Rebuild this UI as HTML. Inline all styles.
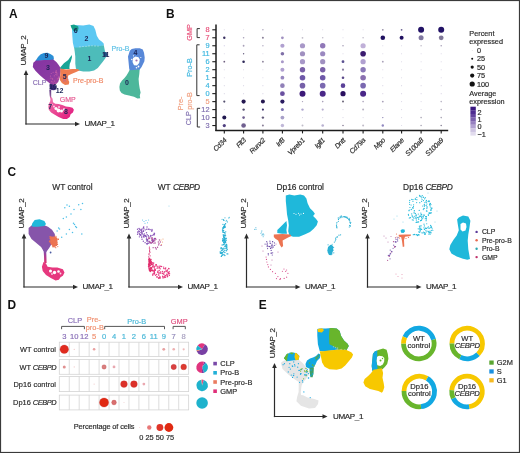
<!DOCTYPE html>
<html><head><meta charset="utf-8"><style>
html,body{margin:0;padding:0;background:#fff;width:520px;height:453px;overflow:hidden;}
svg{display:block;font-family:"Liberation Sans", sans-serif;will-change:transform;}
</style></head><body>
<svg width="520" height="453" viewBox="0 0 520 453">
<rect width="520" height="453" fill="#fff"/>
<rect x="0.5" y="0.5" width="519" height="452" fill="none" stroke="#3a3a3a" stroke-width="1.2"/>
<text x="8.9" y="17.8" font-size="11.9" fill="#111" text-anchor="start" font-weight="bold" >A</text>
<text x="165.9" y="17.9" font-size="11.9" fill="#111" text-anchor="start" font-weight="bold" >B</text>
<text x="7.4" y="176.1" font-size="11.9" fill="#111" text-anchor="start" font-weight="bold" >C</text>
<text x="7.6" y="308.7" font-size="11.9" fill="#111" text-anchor="start" font-weight="bold" >D</text>
<text x="258.7" y="308.8" font-size="11.9" fill="#111" text-anchor="start" font-weight="bold" >E</text>
<defs><linearGradient id="gPk" x1="0" y1="0" x2="1" y2="1"><stop offset="0" stop-color="#f07ab4"/><stop offset="0.45" stop-color="#ea4a94"/><stop offset="1" stop-color="#e0147c"/></linearGradient><linearGradient id="gC3" x1="0" y1="0" x2="1" y2="1"><stop offset="0" stop-color="#8434a2"/><stop offset="0.6" stop-color="#8a3aa2"/><stop offset="1" stop-color="#a4489e"/></linearGradient><linearGradient id="gSt" x1="0" y1="0" x2="0" y2="1"><stop offset="0" stop-color="#5a3a80"/><stop offset="0.7" stop-color="#8a5a9a"/><stop offset="1" stop-color="#e05a9a"/></linearGradient></defs>
<path d="M71.7 25.5 L75.9 24.9 L83.2 25.5 L89.3 24.6 L93.5 26.1 L95.3 29.7 L96.8 35.8 L99 39.4 L102 41.8 L103.8 43.7 L103.8 45.5 L100.2 46.3 L94.1 45.9 L89.3 46.5 L82 47.5 L77.1 48.1 L74.1 48.1 L72.9 43 L72.3 35.8 L72 29.7Z" fill="#5cc8f2" />
<path d="M70.5 25.2 L74 24.6 L78.3 26.5 L78.5 29 L77.1 31.5 L73.5 30.9 L71.5 28Z" fill="#14a08a" />
<path d="M74.1 47.6 L77.1 47.6 L82 47.1 L89.3 46.1 L94.1 45.6 L100.2 45.9 L103.8 45.3 L105 51.6 L106.3 56.4 L105 58.8 L102.6 61.9 L100.2 64.9 L97.8 67.9 L94.1 70.4 L89.3 71.6 L83.2 71.6 L78.3 70.4 L75.9 68.5 L75.3 63.7 L75.3 56.4 L74.7 51.6Z" fill="#4dbcba" />
<path d="M60.2 67.5 L63.9 63.2 L68.2 60 L70.3 56.9 L71.9 55 L71.9 57.4 L70.8 61.6 L69.8 63.8 L69.4 67.5 L69.6 68.9 L60.2 68.9Z" fill="#17a596" />
<path d="M103.2 52.5 L106 52 L107.5 54.5 L106.5 56.4 L104 56.4Z" fill="#1d4f80" />
<path d="M35.4 60.9 L38 57 L40.7 54.3 L43.9 53.1 L47.6 52.8 L50.8 54.3 L53.4 55.9 L53.9 58.6 L53.2 60.2 L49.2 60.6 L43.9 60.6 L38.6 61 L35.9 61.2Z" fill="#2a8fd6" />
<path d="M33.3 62.8 L35.9 60.5 L38.6 60.4 L43.9 60.1 L49.2 60.1 L53.4 59.4 L56.6 62.3 L58.7 64.9 L60.3 67.6 L60.8 70.8 L60.3 74.5 L59.7 77.6 L58.2 81.9 L55.5 84.5 L53.4 85.6 L50.8 84.6 L48.1 81.9 L43.9 78.7 L39.6 75 L35.4 70.8 L32.8 67Z" fill="url(#gC3)" />
<path d="M60.3 68.4 L66.1 69.5 L72.4 69 L77.7 69 L79.9 70.2 L76.7 71.8 L71.4 73.9 L68.2 75.5 L67.7 78.7 L69.3 81.9 L68.7 84.5 L65 85 L61.9 82.9 L59.7 79.7 L60.3 74.5Z" fill="#ee7c50" />
<path d="M49.7 84.2 L53 84.6 L55.5 85.2 L56.5 87 L56 89.5 L54 90.3 L51.5 90 L50 89 L49.5 87Z" fill="#3d2b78" />
<path d="M49.3 89.5 L51.2 89.5 L51.2 96.5 L51.6 98.5 L50.2 98.5 L49.6 95Z" fill="url(#gSt)" />
<path d="M50.7 96.7 L52.5 98.6 L53 102.3 L55.3 103.7 L58.6 104.1 L62.3 105 L66 106.4 L69.7 106.9 L72.5 107.8 L73.9 109.7 L72.9 112.5 L70.6 114.3 L69.7 117.1 L66.9 119 L63.2 119 L58.6 117.1 L54.8 114.8 L51.1 112.5 L48.8 109.7 L48.3 106.9 L48.8 104.1 L50.2 101.3Z" fill="url(#gPk)" />
<path d="M129.8 69.6 L139.7 69 L139.3 74 L138.6 79 L139 84 L139.7 88.5 L140.6 92.5 L139.8 95.5 L140.2 98.2 L137.5 98.4 L134 96.8 L129 95.5 L124.5 94.5 L121.5 93 L119.8 90.5 L119.4 87 L120 83.5 L122 80.5 L124.5 78 L126.5 75.5 L128.3 72.5Z" fill="#4db79b" />
<path d="M129.8 50.8 L131.7 48.9 L135.4 48.3 L139.7 48.3 L142.8 49.6 L144 52.7 L144.7 57.6 L144.4 61.3 L142.8 64.4 L141.6 66.9 L139.7 69.6 L129.8 70.2 L129.2 68.7 L128.6 62.5 L128 56.4 L129.2 52.7ZM133 58 L135.5 56.5 L138.5 57.3 L139.8 59.5 L139.2 63 L137 65.5 L134 65.3 L132.5 62Z" fill="#5888d8" fill-rule="evenodd"/>
<circle cx="50.97" cy="78.16" r="0.6" fill="#c05aa8" />
<circle cx="52.62" cy="79.06" r="0.6" fill="#c05aa8" />
<circle cx="55.82" cy="70.98" r="0.6" fill="#c05aa8" />
<circle cx="51.24" cy="73.51" r="0.6" fill="#c05aa8" />
<circle cx="58.46" cy="77.15" r="0.6" fill="#c05aa8" />
<circle cx="55.99" cy="72.26" r="0.6" fill="#c05aa8" />
<circle cx="55.94" cy="83.02" r="0.6" fill="#c05aa8" />
<circle cx="54.54" cy="81.12" r="0.6" fill="#c05aa8" />
<circle cx="56.39" cy="70.96" r="0.6" fill="#c05aa8" />
<circle cx="57.48" cy="78.87" r="0.6" fill="#c05aa8" />
<circle cx="58.82" cy="77.09" r="0.6" fill="#c05aa8" />
<circle cx="52.94" cy="82.01" r="0.6" fill="#c05aa8" />
<circle cx="53.56" cy="84.03" r="0.6" fill="#c05aa8" />
<circle cx="55.83" cy="74.52" r="0.6" fill="#c05aa8" />
<circle cx="54.34" cy="75.79" r="0.6" fill="#c05aa8" />
<circle cx="52.39" cy="78.78" r="0.6" fill="#c05aa8" />
<circle cx="55.3" cy="83.56" r="0.6" fill="#c05aa8" />
<circle cx="56.39" cy="72.45" r="0.6" fill="#c05aa8" />
<circle cx="56.92" cy="73.17" r="0.6" fill="#c05aa8" />
<circle cx="58.4" cy="78.6" r="0.6" fill="#c05aa8" />
<circle cx="53.13" cy="72.26" r="0.6" fill="#c05aa8" />
<circle cx="51.67" cy="81.53" r="0.6" fill="#c05aa8" />
<circle cx="56.98" cy="74.96" r="0.6" fill="#c05aa8" />
<circle cx="50.47" cy="76.12" r="0.6" fill="#c05aa8" />
<circle cx="55.63" cy="72.34" r="0.6" fill="#c05aa8" />
<circle cx="67.62" cy="77.97" r="0.55" fill="#c86a88" />
<circle cx="63.91" cy="79.46" r="0.55" fill="#c86a88" />
<circle cx="65.47" cy="80.25" r="0.55" fill="#c86a88" />
<circle cx="64.75" cy="80.51" r="0.55" fill="#c86a88" />
<circle cx="68" cy="79.32" r="0.55" fill="#c86a88" />
<circle cx="63.67" cy="81.56" r="0.55" fill="#c86a88" />
<circle cx="62.02" cy="77.16" r="0.55" fill="#c86a88" />
<circle cx="63.53" cy="80.09" r="0.55" fill="#c86a88" />
<circle cx="65.37" cy="74.63" r="0.55" fill="#c86a88" />
<circle cx="65.33" cy="78.9" r="0.55" fill="#c86a88" />
<circle cx="65.77" cy="77.7" r="0.55" fill="#c86a88" />
<circle cx="66.01" cy="81.75" r="0.55" fill="#c86a88" />
<circle cx="56" cy="108.5" r="1.6" fill="#ffffff" />
<circle cx="58.5" cy="110.5" r="1.9" fill="#ffffff" />
<circle cx="61.5" cy="111" r="1.5" fill="#ffffff" />
<circle cx="64" cy="109.5" r="1.2" fill="#fde4ef" />
<circle cx="54" cy="106.5" r="1" fill="#fbd0e4" />
<circle cx="59" cy="107" r="1" fill="#fbd0e4" />
<circle cx="52" cy="104.5" r="0.8" fill="#f8c0da" />
<circle cx="80" cy="46.8" r="0.55" fill="#c8ecf0" />
<circle cx="83" cy="46.5" r="0.55" fill="#c8ecf0" />
<circle cx="86" cy="46.2" r="0.55" fill="#c8ecf0" />
<circle cx="89" cy="45.9" r="0.55" fill="#c8ecf0" />
<circle cx="92" cy="45.8" r="0.55" fill="#c8ecf0" />
<circle cx="95" cy="45.9" r="0.55" fill="#c8ecf0" />
<circle cx="98" cy="46" r="0.55" fill="#c8ecf0" />
<circle cx="136.5" cy="60.5" r="1.1" fill="#a070b0" />
<circle cx="138.5" cy="66.5" r="0.9" fill="#ffffff" />
<circle cx="136.5" cy="67.8" r="0.8" fill="#ffffff" />
<circle cx="131.8" cy="59.5" r="0.7" fill="#ffffff" />
<circle cx="140.8" cy="57.5" r="0.6" fill="#ffffff" />
<circle cx="133.5" cy="55.8" r="0.6" fill="#ffffff" />
<line x1="26" y1="124.6" x2="26" y2="74" stroke="#2b2b2b" stroke-width="1.2"/>
<line x1="25.4" y1="124" x2="76" y2="124" stroke="#2b2b2b" stroke-width="1.2"/>
<path d="M26 70 L23.7 75 L28.3 75Z" fill="#2b2b2b" />
<path d="M80 124 L75 121.7 L75 126.3Z" fill="#2b2b2b" />
<text x="25.7" y="65.5" font-size="8.1" fill="#2b2b2b" stroke="#2b2b2b" stroke-width="0.18" text-anchor="start" letter-spacing="-0.4" transform="rotate(-90 25.7 65.5)" >UMAP_2</text>
<text x="84.6" y="126.2" font-size="8.1" fill="#2b2b2b" stroke="#2b2b2b" stroke-width="0.18" text-anchor="start" letter-spacing="-0.4" >UMAP_1</text>
<text x="86.5" y="41" font-size="7" fill="#1b2456" text-anchor="middle" font-weight="bold" >2</text>
<text x="75.7" y="32.5" font-size="7" fill="#1b2456" text-anchor="middle" font-weight="bold" >6</text>
<text x="89.5" y="61" font-size="7" fill="#1b2456" text-anchor="middle" font-weight="bold" >1</text>
<text x="105.7" y="57" font-size="7" fill="#1b2456" text-anchor="middle" font-weight="bold" >11</text>
<text x="46.5" y="58" font-size="7" fill="#1b2456" text-anchor="middle" font-weight="bold" >9</text>
<text x="48" y="70" font-size="7" fill="#1b2456" text-anchor="middle" font-weight="bold" >3</text>
<text x="64.6" y="79" font-size="7" fill="#1b2456" text-anchor="middle" font-weight="bold" >5</text>
<text x="53" y="89" font-size="7" fill="#1b2456" text-anchor="middle" font-weight="bold" >10</text>
<text x="59.6" y="92.5" font-size="7" fill="#1b2456" text-anchor="middle" font-weight="bold" >12</text>
<text x="50.2" y="108.5" font-size="7" fill="#1b2456" text-anchor="middle" font-weight="bold" >7</text>
<text x="66" y="114.2" font-size="7" fill="#1b2456" text-anchor="middle" font-weight="bold" >8</text>
<text x="126.9" y="85" font-size="7" fill="#1b2456" text-anchor="middle" font-weight="bold" >0</text>
<text x="135.5" y="55" font-size="7" fill="#1b2456" text-anchor="middle" font-weight="bold" >4</text>
<text x="111.5" y="51.2" font-size="7" fill="#5cc0e6" stroke="#5cc0e6" stroke-width="0.18" text-anchor="start" >Pro-B</text>
<text x="73" y="82.8" font-size="7" fill="#f08a68" stroke="#f08a68" stroke-width="0.18" text-anchor="start" >Pre-pro-B</text>
<text x="32.8" y="85.2" font-size="7" fill="#8a70b4" stroke="#8a70b4" stroke-width="0.18" text-anchor="start" >CLP</text>
<text x="59.8" y="102.4" font-size="7" fill="#e75a92" stroke="#e75a92" stroke-width="0.18" text-anchor="start" >GMP</text>
<text x="209.6" y="32.3" font-size="7.4" fill="#e8507a" stroke="#e8507a" stroke-width="0.18" text-anchor="end" >8</text>
<line x1="212.3" y1="29.8" x2="216" y2="29.8" stroke="#1c1c1c" stroke-width="1.1"/>
<text x="209.6" y="40.28" font-size="7.4" fill="#e8507a" stroke="#e8507a" stroke-width="0.18" text-anchor="end" >7</text>
<line x1="212.3" y1="37.78" x2="216" y2="37.78" stroke="#1c1c1c" stroke-width="1.1"/>
<text x="209.6" y="48.26" font-size="7.4" fill="#40b8e0" stroke="#40b8e0" stroke-width="0.18" text-anchor="end" >9</text>
<line x1="212.3" y1="45.76" x2="216" y2="45.76" stroke="#1c1c1c" stroke-width="1.1"/>
<text x="209.6" y="56.24" font-size="7.4" fill="#40b8e0" stroke="#40b8e0" stroke-width="0.18" text-anchor="end" >11</text>
<line x1="212.3" y1="53.74" x2="216" y2="53.74" stroke="#1c1c1c" stroke-width="1.1"/>
<text x="209.6" y="64.22" font-size="7.4" fill="#40b8e0" stroke="#40b8e0" stroke-width="0.18" text-anchor="end" >6</text>
<line x1="212.3" y1="61.72" x2="216" y2="61.72" stroke="#1c1c1c" stroke-width="1.1"/>
<text x="209.6" y="72.2" font-size="7.4" fill="#40b8e0" stroke="#40b8e0" stroke-width="0.18" text-anchor="end" >2</text>
<line x1="212.3" y1="69.7" x2="216" y2="69.7" stroke="#1c1c1c" stroke-width="1.1"/>
<text x="209.6" y="80.18" font-size="7.4" fill="#40b8e0" stroke="#40b8e0" stroke-width="0.18" text-anchor="end" >1</text>
<line x1="212.3" y1="77.68" x2="216" y2="77.68" stroke="#1c1c1c" stroke-width="1.1"/>
<text x="209.6" y="88.16" font-size="7.4" fill="#40b8e0" stroke="#40b8e0" stroke-width="0.18" text-anchor="end" >4</text>
<line x1="212.3" y1="85.66" x2="216" y2="85.66" stroke="#1c1c1c" stroke-width="1.1"/>
<text x="209.6" y="96.14" font-size="7.4" fill="#40b8e0" stroke="#40b8e0" stroke-width="0.18" text-anchor="end" >0</text>
<line x1="212.3" y1="93.64" x2="216" y2="93.64" stroke="#1c1c1c" stroke-width="1.1"/>
<text x="209.6" y="104.12" font-size="7.4" fill="#f0a080" stroke="#f0a080" stroke-width="0.18" text-anchor="end" >5</text>
<line x1="212.3" y1="101.62" x2="216" y2="101.62" stroke="#1c1c1c" stroke-width="1.1"/>
<text x="209.6" y="112.1" font-size="7.4" fill="#8070b0" stroke="#8070b0" stroke-width="0.18" text-anchor="end" >12</text>
<line x1="212.3" y1="109.6" x2="216" y2="109.6" stroke="#1c1c1c" stroke-width="1.1"/>
<text x="209.6" y="120.08" font-size="7.4" fill="#8070b0" stroke="#8070b0" stroke-width="0.18" text-anchor="end" >10</text>
<line x1="212.3" y1="117.58" x2="216" y2="117.58" stroke="#1c1c1c" stroke-width="1.1"/>
<text x="209.6" y="128.06" font-size="7.4" fill="#8070b0" stroke="#8070b0" stroke-width="0.18" text-anchor="end" >3</text>
<line x1="212.3" y1="125.56" x2="216" y2="125.56" stroke="#1c1c1c" stroke-width="1.1"/>
<line x1="216" y1="24.6" x2="216" y2="131" stroke="#1c1c1c" stroke-width="1.5"/>
<line x1="215.3" y1="130.4" x2="448.2" y2="130.4" stroke="#1c1c1c" stroke-width="1.5"/>
<line x1="224.3" y1="130.4" x2="224.3" y2="133.4" stroke="#1c1c1c" stroke-width="1.1"/>
<text x="227" y="140.8" font-size="7" fill="#2b2b2b" stroke="#2b2b2b" stroke-width="0.18" text-anchor="end" font-style="italic" letter-spacing="-0.3" transform="rotate(-45 227 140.8)" >Cd34</text>
<line x1="243.6" y1="130.4" x2="243.6" y2="133.4" stroke="#1c1c1c" stroke-width="1.1"/>
<text x="246.3" y="140.8" font-size="7" fill="#2b2b2b" stroke="#2b2b2b" stroke-width="0.18" text-anchor="end" font-style="italic" letter-spacing="-0.3" transform="rotate(-45 246.3 140.8)" >Flt3</text>
<line x1="262.9" y1="130.4" x2="262.9" y2="133.4" stroke="#1c1c1c" stroke-width="1.1"/>
<text x="265.6" y="140.8" font-size="7" fill="#2b2b2b" stroke="#2b2b2b" stroke-width="0.18" text-anchor="end" font-style="italic" letter-spacing="-0.3" transform="rotate(-45 265.6 140.8)" >Runx2</text>
<line x1="282.4" y1="130.4" x2="282.4" y2="133.4" stroke="#1c1c1c" stroke-width="1.1"/>
<text x="285.1" y="140.8" font-size="7" fill="#2b2b2b" stroke="#2b2b2b" stroke-width="0.18" text-anchor="end" font-style="italic" letter-spacing="-0.3" transform="rotate(-45 285.1 140.8)" >Irf8</text>
<line x1="302.5" y1="130.4" x2="302.5" y2="133.4" stroke="#1c1c1c" stroke-width="1.1"/>
<text x="305.2" y="140.8" font-size="7" fill="#2b2b2b" stroke="#2b2b2b" stroke-width="0.18" text-anchor="end" font-style="italic" letter-spacing="-0.3" transform="rotate(-45 305.2 140.8)" >Vpreb1</text>
<line x1="322.7" y1="130.4" x2="322.7" y2="133.4" stroke="#1c1c1c" stroke-width="1.1"/>
<text x="325.4" y="140.8" font-size="7" fill="#2b2b2b" stroke="#2b2b2b" stroke-width="0.18" text-anchor="end" font-style="italic" letter-spacing="-0.3" transform="rotate(-45 325.4 140.8)" >Igll1</text>
<line x1="343" y1="130.4" x2="343" y2="133.4" stroke="#1c1c1c" stroke-width="1.1"/>
<text x="345.7" y="140.8" font-size="7" fill="#2b2b2b" stroke="#2b2b2b" stroke-width="0.18" text-anchor="end" font-style="italic" letter-spacing="-0.3" transform="rotate(-45 345.7 140.8)" >Dntt</text>
<line x1="363.1" y1="130.4" x2="363.1" y2="133.4" stroke="#1c1c1c" stroke-width="1.1"/>
<text x="365.8" y="140.8" font-size="7" fill="#2b2b2b" stroke="#2b2b2b" stroke-width="0.18" text-anchor="end" font-style="italic" letter-spacing="-0.3" transform="rotate(-45 365.8 140.8)" >Cd79a</text>
<line x1="382.8" y1="130.4" x2="382.8" y2="133.4" stroke="#1c1c1c" stroke-width="1.1"/>
<text x="385.5" y="140.8" font-size="7" fill="#2b2b2b" stroke="#2b2b2b" stroke-width="0.18" text-anchor="end" font-style="italic" letter-spacing="-0.3" transform="rotate(-45 385.5 140.8)" >Mpo</text>
<line x1="401.6" y1="130.4" x2="401.6" y2="133.4" stroke="#1c1c1c" stroke-width="1.1"/>
<text x="404.3" y="140.8" font-size="7" fill="#2b2b2b" stroke="#2b2b2b" stroke-width="0.18" text-anchor="end" font-style="italic" letter-spacing="-0.3" transform="rotate(-45 404.3 140.8)" >Elane</text>
<line x1="421.1" y1="130.4" x2="421.1" y2="133.4" stroke="#1c1c1c" stroke-width="1.1"/>
<text x="423.8" y="140.8" font-size="7" fill="#2b2b2b" stroke="#2b2b2b" stroke-width="0.18" text-anchor="end" font-style="italic" letter-spacing="-0.3" transform="rotate(-45 423.8 140.8)" >S100a8</text>
<line x1="441.2" y1="130.4" x2="441.2" y2="133.4" stroke="#1c1c1c" stroke-width="1.1"/>
<text x="443.9" y="140.8" font-size="7" fill="#2b2b2b" stroke="#2b2b2b" stroke-width="0.18" text-anchor="end" font-style="italic" letter-spacing="-0.3" transform="rotate(-45 443.9 140.8)" >S100a9</text>
<path d="M199.9 28.6 H197.1 V37.6 H199.9" fill="none" stroke="#333" stroke-width="1"/>
<path d="M199.6 44.8 H196.8 V95.6 H199.6" fill="none" stroke="#333" stroke-width="1"/>
<path d="M200.1 108.3 H197.3 V127 H200.1" fill="none" stroke="#333" stroke-width="1"/>
<text x="192.3" y="32.5" font-size="7.2" fill="#e8507a" stroke="#e8507a" stroke-width="0.18" text-anchor="middle" transform="rotate(-90 192.3 32.5)" >GMP</text>
<text x="191.5" y="67.5" font-size="7.2" fill="#40b8e0" stroke="#40b8e0" stroke-width="0.18" text-anchor="middle" transform="rotate(-90 191.5 67.5)" >Pro-B</text>
<text x="182.6" y="103.5" font-size="7.2" fill="#f0a080" stroke="#f0a080" stroke-width="0.18" text-anchor="middle" transform="rotate(-90 182.6 103.5)" >Pre-</text>
<text x="191.5" y="101" font-size="7.2" fill="#f0a080" stroke="#f0a080" stroke-width="0.18" text-anchor="middle" transform="rotate(-90 191.5 101)" >pro-B</text>
<text x="191.5" y="118.3" font-size="7.2" fill="#8070b0" stroke="#8070b0" stroke-width="0.18" text-anchor="middle" transform="rotate(-90 191.5 118.3)" >CLP</text>
<circle cx="224.3" cy="29.8" r="0.55" fill="#d8d4e4" />
<circle cx="243.6" cy="29.8" r="0.55" fill="#d8d4e4" />
<circle cx="262.9" cy="29.8" r="0.7" fill="#a8a0b8" />
<circle cx="282.4" cy="29.8" r="0.55" fill="#d8d4e4" />
<circle cx="302.5" cy="29.8" r="0.55" fill="#d8d4e4" />
<circle cx="322.7" cy="29.8" r="0.55" fill="#d8d4e4" />
<circle cx="343" cy="29.8" r="0.55" fill="#d8d4e4" />
<circle cx="363.1" cy="29.8" r="0.55" fill="#d8d4e4" />
<circle cx="382.8" cy="29.8" r="0.9" fill="#9890a8" />
<circle cx="401.6" cy="29.8" r="0.9" fill="#6a6090" />
<circle cx="421.1" cy="29.8" r="3" fill="#221266" />
<circle cx="441.2" cy="29.8" r="3" fill="#221266" />
<circle cx="224.3" cy="37.78" r="1.2" fill="#3a3060" />
<circle cx="243.6" cy="37.78" r="0.8" fill="#a8a0b8" />
<circle cx="262.9" cy="37.78" r="1" fill="#8a8098" />
<circle cx="282.4" cy="37.78" r="1.4" fill="#a090c0" />
<circle cx="302.5" cy="37.78" r="0.9" fill="#c0bcc8" />
<circle cx="322.7" cy="37.78" r="0.8" fill="#c0bcc8" />
<circle cx="343" cy="37.78" r="0.55" fill="#d8d4e4" />
<circle cx="363.1" cy="37.78" r="0.8" fill="#c0bcc8" />
<circle cx="382.8" cy="37.78" r="2.3" fill="#201060" />
<circle cx="401.6" cy="37.78" r="2" fill="#201060" />
<circle cx="421.1" cy="37.78" r="2.5" fill="#8078a0" />
<circle cx="441.2" cy="37.78" r="2.4" fill="#807898" />
<circle cx="224.3" cy="45.76" r="0.6" fill="#c8c0e0" />
<circle cx="243.6" cy="45.76" r="0.9" fill="#a8a0b8" />
<circle cx="262.9" cy="45.76" r="0.7" fill="#b0a8c0" />
<circle cx="282.4" cy="45.76" r="2.1" fill="#b0a0d0" />
<circle cx="302.5" cy="45.76" r="2.6" fill="#a898c8" />
<circle cx="322.7" cy="45.76" r="2.7" fill="#9078b8" />
<circle cx="343" cy="45.76" r="0.8" fill="#a8a0b8" />
<circle cx="363.1" cy="45.76" r="2.6" fill="#c0b0d8" />
<circle cx="382.8" cy="45.76" r="0.55" fill="#d8d4e4" />
<circle cx="401.6" cy="45.76" r="0.55" fill="#d8d4e4" />
<circle cx="421.1" cy="45.76" r="0.8" fill="#c0bcc8" />
<circle cx="441.2" cy="45.76" r="0.8" fill="#a8a0b8" />
<circle cx="224.3" cy="53.74" r="0.55" fill="#d8d4e4" />
<circle cx="243.6" cy="53.74" r="0.7" fill="#6a6080" />
<circle cx="262.9" cy="53.74" r="0.55" fill="#d8d4e4" />
<circle cx="282.4" cy="53.74" r="1.8" fill="#8070a8" />
<circle cx="302.5" cy="53.74" r="2.6" fill="#a090c0" />
<circle cx="322.7" cy="53.74" r="2.6" fill="#9a88c0" />
<circle cx="343" cy="53.74" r="0.55" fill="#d8d4e4" />
<circle cx="363.1" cy="53.74" r="2.8" fill="#3c1c70" />
<circle cx="382.8" cy="53.74" r="0.55" fill="#d8d4e4" />
<circle cx="401.6" cy="53.74" r="0.55" fill="#d8d4e4" />
<circle cx="421.1" cy="53.74" r="0.55" fill="#d8d4e4" />
<circle cx="441.2" cy="53.74" r="0.55" fill="#d8d4e4" />
<circle cx="224.3" cy="61.72" r="0.9" fill="#706080" />
<circle cx="243.6" cy="61.72" r="1.3" fill="#2e2858" />
<circle cx="262.9" cy="61.72" r="0.9" fill="#8a8098" />
<circle cx="282.4" cy="61.72" r="1.5" fill="#a898c8" />
<circle cx="302.5" cy="61.72" r="2.6" fill="#a898c8" />
<circle cx="322.7" cy="61.72" r="2.6" fill="#a090c0" />
<circle cx="343" cy="61.72" r="1.4" fill="#5a5090" />
<circle cx="363.1" cy="61.72" r="2.6" fill="#b0a0d0" />
<circle cx="382.8" cy="61.72" r="0.9" fill="#a8a0b8" />
<circle cx="401.6" cy="61.72" r="0.55" fill="#d8d4e4" />
<circle cx="421.1" cy="61.72" r="0.55" fill="#d8d4e4" />
<circle cx="441.2" cy="61.72" r="0.55" fill="#d8d4e4" />
<circle cx="224.3" cy="69.7" r="0.55" fill="#d8d4e4" />
<circle cx="243.6" cy="69.7" r="0.55" fill="#d8d4e4" />
<circle cx="262.9" cy="69.7" r="0.55" fill="#d8d4e4" />
<circle cx="282.4" cy="69.7" r="2" fill="#b0a0d0" />
<circle cx="302.5" cy="69.7" r="2.7" fill="#7a60a8" />
<circle cx="322.7" cy="69.7" r="2.7" fill="#7a60a8" />
<circle cx="343" cy="69.7" r="1.1" fill="#8a80a0" />
<circle cx="363.1" cy="69.7" r="2.7" fill="#8a78b8" />
<circle cx="382.8" cy="69.7" r="0.55" fill="#d8d4e4" />
<circle cx="401.6" cy="69.7" r="0.55" fill="#d8d4e4" />
<circle cx="421.1" cy="69.7" r="0.55" fill="#d8d4e4" />
<circle cx="441.2" cy="69.7" r="0.55" fill="#d8d4e4" />
<circle cx="224.3" cy="77.68" r="0.55" fill="#d8d4e4" />
<circle cx="243.6" cy="77.68" r="0.55" fill="#d8d4e4" />
<circle cx="262.9" cy="77.68" r="0.55" fill="#d8d4e4" />
<circle cx="282.4" cy="77.68" r="1.9" fill="#9888c0" />
<circle cx="302.5" cy="77.68" r="2.8" fill="#6e58a8" />
<circle cx="322.7" cy="77.68" r="2.8" fill="#6e58a8" />
<circle cx="343" cy="77.68" r="1.3" fill="#5a4888" />
<circle cx="363.1" cy="77.68" r="2.8" fill="#8a70b0" />
<circle cx="382.8" cy="77.68" r="0.55" fill="#d8d4e4" />
<circle cx="401.6" cy="77.68" r="0.55" fill="#d8d4e4" />
<circle cx="421.1" cy="77.68" r="0.55" fill="#d8d4e4" />
<circle cx="441.2" cy="77.68" r="0.55" fill="#d8d4e4" />
<circle cx="224.3" cy="85.66" r="0.55" fill="#d8d4e4" />
<circle cx="243.6" cy="85.66" r="0.55" fill="#d8d4e4" />
<circle cx="262.9" cy="85.66" r="0.55" fill="#d8d4e4" />
<circle cx="282.4" cy="85.66" r="2.3" fill="#9080b8" />
<circle cx="302.5" cy="85.66" r="2.8" fill="#7560a8" />
<circle cx="322.7" cy="85.66" r="2.8" fill="#7a68b0" />
<circle cx="343" cy="85.66" r="2.3" fill="#5a4098" />
<circle cx="363.1" cy="85.66" r="2.8" fill="#7a68b0" />
<circle cx="382.8" cy="85.66" r="0.55" fill="#d8d4e4" />
<circle cx="401.6" cy="85.66" r="0.55" fill="#d8d4e4" />
<circle cx="421.1" cy="85.66" r="0.55" fill="#d8d4e4" />
<circle cx="441.2" cy="85.66" r="0.55" fill="#d8d4e4" />
<circle cx="224.3" cy="93.64" r="0.55" fill="#d8d4e4" />
<circle cx="243.6" cy="93.64" r="0.55" fill="#d8d4e4" />
<circle cx="262.9" cy="93.64" r="0.55" fill="#d8d4e4" />
<circle cx="282.4" cy="93.64" r="2.4" fill="#6a50a0" />
<circle cx="302.5" cy="93.64" r="3" fill="#3c1a78" />
<circle cx="322.7" cy="93.64" r="3" fill="#4a2888" />
<circle cx="343" cy="93.64" r="2.6" fill="#2a1060" />
<circle cx="363.1" cy="93.64" r="3" fill="#4a2888" />
<circle cx="382.8" cy="93.64" r="0.55" fill="#d8d4e4" />
<circle cx="401.6" cy="93.64" r="0.55" fill="#d8d4e4" />
<circle cx="421.1" cy="93.64" r="0.55" fill="#d8d4e4" />
<circle cx="441.2" cy="93.64" r="0.55" fill="#d8d4e4" />
<circle cx="224.3" cy="101.62" r="1.1" fill="#555070" />
<circle cx="243.6" cy="101.62" r="2.1" fill="#251850" />
<circle cx="262.9" cy="101.62" r="2" fill="#251850" />
<circle cx="282.4" cy="101.62" r="2.1" fill="#2a1c60" />
<circle cx="302.5" cy="101.62" r="0.7" fill="#a8a0b8" />
<circle cx="322.7" cy="101.62" r="0.8" fill="#a8a0b8" />
<circle cx="343" cy="101.62" r="1" fill="#6a6478" />
<circle cx="363.1" cy="101.62" r="0.8" fill="#a8a0b8" />
<circle cx="382.8" cy="101.62" r="0.9" fill="#a8a0b8" />
<circle cx="401.6" cy="101.62" r="0.55" fill="#d8d4e4" />
<circle cx="421.1" cy="101.62" r="0.55" fill="#d8d4e4" />
<circle cx="441.2" cy="101.62" r="0.8" fill="#b8b4c4" />
<circle cx="224.3" cy="109.6" r="0.55" fill="#d8d4e4" />
<circle cx="243.6" cy="109.6" r="1.2" fill="#555070" />
<circle cx="262.9" cy="109.6" r="1.1" fill="#3a3068" />
<circle cx="282.4" cy="109.6" r="1.5" fill="#7a70b0" />
<circle cx="302.5" cy="109.6" r="1.2" fill="#b0a8d0" />
<circle cx="322.7" cy="109.6" r="1.1" fill="#b8b0d0" />
<circle cx="343" cy="109.6" r="0.55" fill="#d8d4e4" />
<circle cx="363.1" cy="109.6" r="1" fill="#b8b4c4" />
<circle cx="382.8" cy="109.6" r="0.55" fill="#d8d4e4" />
<circle cx="401.6" cy="109.6" r="0.55" fill="#d8d4e4" />
<circle cx="421.1" cy="109.6" r="0.55" fill="#d8d4e4" />
<circle cx="441.2" cy="109.6" r="0.8" fill="#b8b4c4" />
<circle cx="224.3" cy="117.58" r="2" fill="#201850" />
<circle cx="243.6" cy="117.58" r="1.3" fill="#706090" />
<circle cx="262.9" cy="117.58" r="1.2" fill="#605878" />
<circle cx="282.4" cy="117.58" r="1.9" fill="#a8a0c8" />
<circle cx="302.5" cy="117.58" r="0.55" fill="#d8d4e4" />
<circle cx="322.7" cy="117.58" r="0.55" fill="#d8d4e4" />
<circle cx="343" cy="117.58" r="0.55" fill="#d8d4e4" />
<circle cx="363.1" cy="117.58" r="0.55" fill="#d8d4e4" />
<circle cx="382.8" cy="117.58" r="0.7" fill="#8880b0" />
<circle cx="401.6" cy="117.58" r="0.55" fill="#d8d4e4" />
<circle cx="421.1" cy="117.58" r="0.8" fill="#a8a4b4" />
<circle cx="441.2" cy="117.58" r="0.8" fill="#a8a4b4" />
<circle cx="224.3" cy="125.56" r="1.6" fill="#504080" />
<circle cx="243.6" cy="125.56" r="2.3" fill="#706090" />
<circle cx="262.9" cy="125.56" r="1" fill="#8a8098" />
<circle cx="282.4" cy="125.56" r="1.7" fill="#c0b8d8" />
<circle cx="302.5" cy="125.56" r="1" fill="#c0bcc8" />
<circle cx="322.7" cy="125.56" r="1.3" fill="#b8b0d0" />
<circle cx="343" cy="125.56" r="0.8" fill="#8a8098" />
<circle cx="363.1" cy="125.56" r="1" fill="#c0bcc8" />
<circle cx="382.8" cy="125.56" r="1.2" fill="#9088c0" />
<circle cx="401.6" cy="125.56" r="0.55" fill="#d8d4e4" />
<circle cx="421.1" cy="125.56" r="0.8" fill="#a8a4b4" />
<circle cx="441.2" cy="125.56" r="0.8" fill="#8a8498" />
<text x="469.3" y="36.2" font-size="7.3" fill="#2b2b2b" stroke="#2b2b2b" stroke-width="0.18" text-anchor="start" >Percent</text>
<text x="469.3" y="44.2" font-size="7.3" fill="#2b2b2b" stroke="#2b2b2b" stroke-width="0.18" text-anchor="start" >expressed</text>
<circle cx="472.2" cy="50.4" r="0.4" fill="#bbb" />
<text x="477" y="53" font-size="7.3" fill="#2b2b2b" stroke="#2b2b2b" stroke-width="0.18" text-anchor="start" >0</text>
<circle cx="472.2" cy="58.8" r="1" fill="#111" />
<text x="477" y="61.4" font-size="7.3" fill="#2b2b2b" stroke="#2b2b2b" stroke-width="0.18" text-anchor="start" >25</text>
<circle cx="472.2" cy="67.1" r="1.6" fill="#111" />
<text x="477" y="69.7" font-size="7.3" fill="#2b2b2b" stroke="#2b2b2b" stroke-width="0.18" text-anchor="start" >50</text>
<circle cx="472.2" cy="75.6" r="2.1" fill="#111" />
<text x="477" y="78.2" font-size="7.3" fill="#2b2b2b" stroke="#2b2b2b" stroke-width="0.18" text-anchor="start" >75</text>
<circle cx="472.2" cy="84" r="2.6" fill="#111" />
<text x="477" y="86.6" font-size="7.3" fill="#2b2b2b" stroke="#2b2b2b" stroke-width="0.18" text-anchor="start" >100</text>
<text x="469.3" y="95.8" font-size="7.3" fill="#2b2b2b" stroke="#2b2b2b" stroke-width="0.18" text-anchor="start" >Average</text>
<text x="469.3" y="103.8" font-size="7.3" fill="#2b2b2b" stroke="#2b2b2b" stroke-width="0.18" text-anchor="start" >expression</text>
<defs><linearGradient id="gB" x1="0" y1="0" x2="0" y2="1"><stop offset="0" stop-color="#2d1570"/><stop offset="0.5" stop-color="#8a70bc"/><stop offset="1" stop-color="#e6e0f0"/></linearGradient></defs>
<rect x="470.4" y="106.7" width="5.4" height="3.7" fill="#3a1880" />
<rect x="470.4" y="110.3" width="5.4" height="3.7" fill="#4e2c90" />
<rect x="470.4" y="113.9" width="5.4" height="3.7" fill="#64449e" />
<rect x="470.4" y="117.5" width="5.4" height="3.7" fill="#7c62ae" />
<rect x="470.4" y="121.1" width="5.4" height="3.7" fill="#9680c0" />
<rect x="470.4" y="124.7" width="5.4" height="3.7" fill="#b2a2d2" />
<rect x="470.4" y="128.3" width="5.4" height="3.7" fill="#cec4e2" />
<rect x="470.4" y="131.9" width="5.4" height="3.7" fill="#e2dcee" />
<text x="477.5" y="114.6" font-size="7.3" fill="#2b2b2b" stroke="#2b2b2b" stroke-width="0.18" text-anchor="start" >2</text>
<text x="477.5" y="121.8" font-size="7.3" fill="#2b2b2b" stroke="#2b2b2b" stroke-width="0.18" text-anchor="start" >1</text>
<text x="477.5" y="129.2" font-size="7.3" fill="#2b2b2b" stroke="#2b2b2b" stroke-width="0.18" text-anchor="start" >0</text>
<text x="477.5" y="136.6" font-size="7.3" fill="#2b2b2b" stroke="#2b2b2b" stroke-width="0.18" text-anchor="start" >−1</text>
<text x="52.3" y="189.5" font-size="8.4" fill="#2b2b2b" stroke="#2b2b2b" stroke-width="0.18" text-anchor="start" >WT control</text>
<line x1="24" y1="287.6" x2="24" y2="237.5" stroke="#2b2b2b" stroke-width="1.2"/>
<line x1="23.4" y1="287" x2="74" y2="287" stroke="#2b2b2b" stroke-width="1.2"/>
<path d="M24 233.5 L21.7 238.5 L26.3 238.5Z" fill="#2b2b2b" />
<path d="M78 287 L73 284.7 L73 289.3Z" fill="#2b2b2b" />
<text x="23.7" y="228.5" font-size="8.1" fill="#2b2b2b" stroke="#2b2b2b" stroke-width="0.18" text-anchor="start" letter-spacing="-0.4" transform="rotate(-90 23.7 228.5)" >UMAP_2</text>
<text x="82.6" y="289.2" font-size="8.1" fill="#2b2b2b" stroke="#2b2b2b" stroke-width="0.18" text-anchor="start" letter-spacing="-0.4" >UMAP_1</text>
<text x="157.7" y="189.5" font-size="8.4" fill="#2b2b2b" stroke="#2b2b2b" stroke-width="0.18">WT <tspan font-style="italic" letter-spacing="-0.4">CEBPD</tspan></text>
<line x1="129" y1="287.6" x2="129" y2="237.5" stroke="#2b2b2b" stroke-width="1.2"/>
<line x1="128.4" y1="287" x2="179" y2="287" stroke="#2b2b2b" stroke-width="1.2"/>
<path d="M129 233.5 L126.7 238.5 L131.3 238.5Z" fill="#2b2b2b" />
<path d="M183 287 L178 284.7 L178 289.3Z" fill="#2b2b2b" />
<text x="128.7" y="228.5" font-size="8.1" fill="#2b2b2b" stroke="#2b2b2b" stroke-width="0.18" text-anchor="start" letter-spacing="-0.4" transform="rotate(-90 128.7 228.5)" >UMAP_2</text>
<text x="187.6" y="289.2" font-size="8.1" fill="#2b2b2b" stroke="#2b2b2b" stroke-width="0.18" text-anchor="start" letter-spacing="-0.4" >UMAP_1</text>
<text x="276.5" y="189.5" font-size="8.4" fill="#2b2b2b" stroke="#2b2b2b" stroke-width="0.18" text-anchor="start" >Dp16 control</text>
<line x1="246.5" y1="287.6" x2="246.5" y2="237.5" stroke="#2b2b2b" stroke-width="1.2"/>
<line x1="245.9" y1="287" x2="296.5" y2="287" stroke="#2b2b2b" stroke-width="1.2"/>
<path d="M246.5 233.5 L244.2 238.5 L248.8 238.5Z" fill="#2b2b2b" />
<path d="M300.5 287 L295.5 284.7 L295.5 289.3Z" fill="#2b2b2b" />
<text x="246.2" y="228.5" font-size="8.1" fill="#2b2b2b" stroke="#2b2b2b" stroke-width="0.18" text-anchor="start" letter-spacing="-0.4" transform="rotate(-90 246.2 228.5)" >UMAP_2</text>
<text x="305.1" y="289.2" font-size="8.1" fill="#2b2b2b" stroke="#2b2b2b" stroke-width="0.18" text-anchor="start" letter-spacing="-0.4" >UMAP_1</text>
<text x="403.1" y="189.5" font-size="8.4" fill="#2b2b2b" stroke="#2b2b2b" stroke-width="0.18">Dp16 <tspan font-style="italic" letter-spacing="-0.4">CEBPD</tspan></text>
<line x1="367.5" y1="287.6" x2="367.5" y2="237.5" stroke="#2b2b2b" stroke-width="1.2"/>
<line x1="366.9" y1="287" x2="417.5" y2="287" stroke="#2b2b2b" stroke-width="1.2"/>
<path d="M367.5 233.5 L365.2 238.5 L369.8 238.5Z" fill="#2b2b2b" />
<path d="M421.5 287 L416.5 284.7 L416.5 289.3Z" fill="#2b2b2b" />
<text x="367.2" y="228.5" font-size="8.1" fill="#2b2b2b" stroke="#2b2b2b" stroke-width="0.18" text-anchor="start" letter-spacing="-0.4" transform="rotate(-90 367.2 228.5)" >UMAP_2</text>
<text x="426.1" y="289.2" font-size="8.1" fill="#2b2b2b" stroke="#2b2b2b" stroke-width="0.18" text-anchor="start" letter-spacing="-0.4" >UMAP_1</text>
<defs><linearGradient id="gst" x1="0" y1="0" x2="0" y2="1"><stop offset="0" stop-color="#7b4db5"/><stop offset="1" stop-color="#e0306e"/></linearGradient></defs>
<path d="M43.6 250 L46.2 250 L46.4 256 L46.6 263 L44.2 263 L44 256Z" fill="url(#gst)" />
<path d="M28.6 228.1 L31.5 225.5 L37.9 226.1 L44.4 225.3 L48 226.8 L52 229.8 L54.8 234 L55.2 238.5 L53.5 242 L51 245 L49.2 248 L47 251 L45.6 253 L43.5 251 L41.1 247 L36.3 243 L31.5 239 L28.6 234Z" fill="#8655aa" />
<path d="M32.3 223.3 L34.7 220.1 L39.5 219.3 L44.4 220.9 L46 224.1 L44.4 226 L37.9 226.8 L33.1 226.8 L31.5 226Z" fill="#1fb8da" />
<path d="M50 237 L54 236.5 L57 237.5 L57.5 241 L57 246 L53 246.5 L50.5 244Z" fill="#ec7452" />
<circle cx="52.6" cy="237.35" r="0.6" fill="#ec7452" />
<circle cx="56.03" cy="236.33" r="0.6" fill="#ec7452" />
<circle cx="54.83" cy="240.12" r="0.6" fill="#ec7452" />
<circle cx="49.81" cy="241.95" r="0.6" fill="#ec7452" />
<circle cx="49.59" cy="240.99" r="0.6" fill="#ec7452" />
<circle cx="49.93" cy="236.57" r="0.6" fill="#ec7452" />
<circle cx="53.66" cy="246.07" r="0.6" fill="#ec7452" />
<circle cx="50.5" cy="238.28" r="0.6" fill="#ec7452" />
<circle cx="55.79" cy="247.63" r="0.6" fill="#ec7452" />
<circle cx="55.26" cy="240.52" r="0.6" fill="#ec7452" />
<circle cx="58.21" cy="239.14" r="0.6" fill="#ec7452" />
<circle cx="50.71" cy="236.92" r="0.6" fill="#ec7452" />
<circle cx="52.44" cy="245.93" r="0.6" fill="#ec7452" />
<circle cx="51.1" cy="242.9" r="0.6" fill="#ec7452" />
<circle cx="55.91" cy="240.2" r="0.6" fill="#ec7452" />
<circle cx="54.95" cy="236.21" r="0.6" fill="#ec7452" />
<circle cx="49.83" cy="238.06" r="0.6" fill="#ec7452" />
<circle cx="56.34" cy="240.92" r="0.6" fill="#ec7452" />
<circle cx="52.5" cy="242.95" r="0.6" fill="#ec7452" />
<circle cx="53.96" cy="239.27" r="0.6" fill="#ec7452" />
<circle cx="57.54" cy="244.42" r="0.6" fill="#ec7452" />
<circle cx="51.76" cy="242.81" r="0.6" fill="#ec7452" />
<circle cx="54.71" cy="246.69" r="0.6" fill="#ec7452" />
<circle cx="56.86" cy="239.11" r="0.6" fill="#ec7452" />
<circle cx="53.59" cy="245.17" r="0.6" fill="#ec7452" />
<circle cx="50.8" cy="241.71" r="0.6" fill="#ec7452" />
<circle cx="57.23" cy="242.79" r="0.6" fill="#ec7452" />
<circle cx="58.39" cy="239.45" r="0.6" fill="#ec7452" />
<circle cx="56.5" cy="243.07" r="0.6" fill="#ec7452" />
<circle cx="55.29" cy="241.29" r="0.6" fill="#ec7452" />
<circle cx="54.18" cy="243.97" r="0.6" fill="#ec7452" />
<circle cx="57.83" cy="239.07" r="0.6" fill="#ec7452" />
<circle cx="53.25" cy="244.03" r="0.6" fill="#ec7452" />
<circle cx="49.44" cy="241.36" r="0.6" fill="#ec7452" />
<circle cx="50.96" cy="236.91" r="0.6" fill="#ec7452" />
<circle cx="50.56" cy="238.59" r="0.6" fill="#ec7452" />
<circle cx="53.3" cy="246.64" r="0.6" fill="#ec7452" />
<circle cx="50.05" cy="241.19" r="0.6" fill="#ec7452" />
<circle cx="54.97" cy="246.8" r="0.6" fill="#ec7452" />
<circle cx="57.8" cy="246.55" r="0.6" fill="#ec7452" />
<circle cx="52.12" cy="240.76" r="0.6" fill="#ec7452" />
<circle cx="52.97" cy="246.81" r="0.6" fill="#ec7452" />
<circle cx="51.05" cy="238.39" r="0.6" fill="#ec7452" />
<circle cx="51.65" cy="241.66" r="0.6" fill="#ec7452" />
<circle cx="55.39" cy="238.79" r="0.6" fill="#ec7452" />
<path d="M43.5 262 L46 263.6 L47.6 266.8 L52.4 267.6 L57.3 267.6 L62.9 269.3 L64.5 272.5 L62.9 275.7 L60.5 277.3 L58.9 279.7 L55.6 280.5 L50.8 278.1 L46 274.9 L42.7 270.9 L41.9 266.8Z" fill="#e6387e" />
<circle cx="50.5" cy="271" r="1.5" fill="#fff" />
<circle cx="54.5" cy="272.5" r="1.7" fill="#fff" />
<circle cx="58.5" cy="271.5" r="1.3" fill="#fff" />
<circle cx="52" cy="274" r="0.9" fill="#fbd6e6" />
<circle cx="60.5" cy="273.5" r="0.9" fill="#fbd6e6" />
<circle cx="50.6" cy="252.5" r="0.9" fill="#4a5aa0" />
<circle cx="64.8" cy="207.8" r="0.75" fill="#4ec0e8" />
<circle cx="69.4" cy="206.3" r="0.75" fill="#4ec0e8" />
<circle cx="74" cy="209.4" r="0.75" fill="#4ec0e8" />
<circle cx="78.7" cy="204.8" r="0.75" fill="#4ec0e8" />
<circle cx="80.9" cy="209.4" r="0.75" fill="#4ec0e8" />
<circle cx="66.4" cy="217.1" r="0.75" fill="#4ec0e8" />
<circle cx="63.3" cy="218.6" r="0.75" fill="#4ec0e8" />
<circle cx="71" cy="214" r="0.75" fill="#4ec0e8" />
<circle cx="73.5" cy="223.3" r="0.75" fill="#4ec0e8" />
<circle cx="75.6" cy="226.4" r="0.75" fill="#4ec0e8" />
<circle cx="69.4" cy="229.4" r="0.75" fill="#4ec0e8" />
<circle cx="58.6" cy="227.9" r="0.75" fill="#4ec0e8" />
<circle cx="57.1" cy="231" r="0.75" fill="#4ec0e8" />
<circle cx="81.8" cy="234.1" r="0.75" fill="#4ec0e8" />
<circle cx="66.4" cy="234.1" r="0.75" fill="#4ec0e8" />
<circle cx="61.7" cy="237.2" r="0.75" fill="#4ec0e8" />
<circle cx="72.5" cy="232.5" r="0.75" fill="#4ec0e8" />
<circle cx="74.5" cy="224.5" r="0.75" fill="#4ec0e8" />
<circle cx="76.5" cy="227.5" r="0.75" fill="#4ec0e8" />
<circle cx="59.5" cy="229" r="0.75" fill="#4ec0e8" />
<circle cx="82.5" cy="203.5" r="0.75" fill="#4ec0e8" />
<circle cx="67" cy="205" r="0.75" fill="#4ec0e8" />
<circle cx="137.57" cy="234.25" r="0.7" fill="#8856b8" />
<circle cx="143.96" cy="236.98" r="0.7" fill="#8856b8" />
<circle cx="154.18" cy="239.27" r="0.7" fill="#8856b8" />
<circle cx="146.52" cy="237.93" r="0.7" fill="#8856b8" />
<circle cx="153.24" cy="240.93" r="0.7" fill="#8856b8" />
<circle cx="152.8" cy="241.26" r="0.7" fill="#8856b8" />
<circle cx="144.37" cy="233.88" r="0.7" fill="#8856b8" />
<circle cx="141.15" cy="229.5" r="0.7" fill="#8856b8" />
<circle cx="143.45" cy="227.47" r="0.7" fill="#8856b8" />
<circle cx="137.5" cy="229.3" r="0.7" fill="#8856b8" />
<circle cx="139.28" cy="233.23" r="0.7" fill="#8856b8" />
<circle cx="148.25" cy="229.25" r="0.7" fill="#8856b8" />
<circle cx="141.91" cy="232.93" r="0.7" fill="#8856b8" />
<circle cx="143.87" cy="228.77" r="0.7" fill="#8856b8" />
<circle cx="145.65" cy="235.45" r="0.7" fill="#8856b8" />
<circle cx="139" cy="228.39" r="0.7" fill="#8856b8" />
<circle cx="143.5" cy="231.4" r="0.7" fill="#8856b8" />
<circle cx="152" cy="229.49" r="0.7" fill="#8856b8" />
<circle cx="146.74" cy="229.21" r="0.7" fill="#8856b8" />
<circle cx="147.01" cy="227" r="0.7" fill="#8856b8" />
<circle cx="152.61" cy="239.38" r="0.7" fill="#8856b8" />
<circle cx="142.07" cy="233.28" r="0.7" fill="#8856b8" />
<circle cx="146.82" cy="240.91" r="0.7" fill="#8856b8" />
<circle cx="143.27" cy="230.63" r="0.7" fill="#8856b8" />
<circle cx="152.42" cy="241.41" r="0.7" fill="#8856b8" />
<circle cx="151.82" cy="240.19" r="0.7" fill="#8856b8" />
<circle cx="141.47" cy="236.08" r="0.7" fill="#8856b8" />
<circle cx="143.72" cy="227.04" r="0.7" fill="#8856b8" />
<circle cx="137.99" cy="231.67" r="0.7" fill="#8856b8" />
<circle cx="142.04" cy="239.31" r="0.7" fill="#8856b8" />
<circle cx="154.24" cy="234.77" r="0.7" fill="#8856b8" />
<circle cx="154.21" cy="233.25" r="0.7" fill="#8856b8" />
<circle cx="141.36" cy="230.7" r="0.7" fill="#8856b8" />
<circle cx="140.94" cy="230.28" r="0.7" fill="#8856b8" />
<circle cx="148.42" cy="243.16" r="0.7" fill="#8856b8" />
<circle cx="152.21" cy="235.37" r="0.7" fill="#8856b8" />
<circle cx="148.93" cy="241.29" r="0.7" fill="#8856b8" />
<circle cx="153.42" cy="240.97" r="0.7" fill="#8856b8" />
<circle cx="150.63" cy="235.34" r="0.7" fill="#8856b8" />
<circle cx="143.32" cy="241.32" r="0.7" fill="#8856b8" />
<circle cx="154.5" cy="233.82" r="0.7" fill="#8856b8" />
<circle cx="150.18" cy="229.65" r="0.7" fill="#8856b8" />
<circle cx="139.72" cy="229.3" r="0.7" fill="#8856b8" />
<circle cx="153.33" cy="241.42" r="0.7" fill="#8856b8" />
<circle cx="143.63" cy="236.65" r="0.7" fill="#8856b8" />
<circle cx="154.49" cy="238.52" r="0.7" fill="#8856b8" />
<circle cx="146.72" cy="243.77" r="0.7" fill="#8856b8" />
<circle cx="145.09" cy="242.63" r="0.7" fill="#8856b8" />
<circle cx="151.96" cy="230.4" r="0.7" fill="#8856b8" />
<circle cx="141.91" cy="231.92" r="0.7" fill="#8856b8" />
<circle cx="141.71" cy="237.35" r="0.7" fill="#8856b8" />
<circle cx="142.04" cy="234.25" r="0.7" fill="#8856b8" />
<circle cx="143.69" cy="234.98" r="0.7" fill="#8856b8" />
<circle cx="147.71" cy="243.23" r="0.7" fill="#8856b8" />
<circle cx="146.28" cy="236.34" r="0.7" fill="#8856b8" />
<circle cx="145.2" cy="229.89" r="0.7" fill="#8856b8" />
<circle cx="140.52" cy="235.26" r="0.7" fill="#8856b8" />
<circle cx="150.19" cy="236.79" r="0.7" fill="#8856b8" />
<circle cx="143.2" cy="236.09" r="0.7" fill="#8856b8" />
<circle cx="147.22" cy="241.01" r="0.7" fill="#8856b8" />
<circle cx="139.36" cy="236.87" r="0.7" fill="#8856b8" />
<circle cx="141.85" cy="231.62" r="0.7" fill="#8856b8" />
<circle cx="151.01" cy="235.89" r="0.7" fill="#8856b8" />
<circle cx="147.33" cy="240.56" r="0.7" fill="#8856b8" />
<circle cx="153.47" cy="234.7" r="0.7" fill="#8856b8" />
<circle cx="148.22" cy="235.85" r="0.7" fill="#8856b8" />
<circle cx="146.46" cy="239.32" r="0.7" fill="#8856b8" />
<circle cx="145.42" cy="236.37" r="0.7" fill="#8856b8" />
<circle cx="149.74" cy="242.72" r="0.7" fill="#8856b8" />
<circle cx="147.29" cy="243.95" r="0.7" fill="#8856b8" />
<circle cx="139.63" cy="234.68" r="0.7" fill="#8856b8" />
<circle cx="138.77" cy="230.95" r="0.7" fill="#8856b8" />
<circle cx="151.22" cy="243.09" r="0.7" fill="#8856b8" />
<circle cx="149.05" cy="229.15" r="0.7" fill="#8856b8" />
<circle cx="144.47" cy="235.51" r="0.7" fill="#8856b8" />
<circle cx="140.33" cy="234.48" r="0.7" fill="#8856b8" />
<circle cx="146.52" cy="232.77" r="0.7" fill="#8856b8" />
<circle cx="140.93" cy="232.39" r="0.7" fill="#8856b8" />
<circle cx="147.2" cy="234.65" r="0.7" fill="#8856b8" />
<circle cx="137.82" cy="232.63" r="0.7" fill="#8856b8" />
<circle cx="148.42" cy="235.98" r="0.7" fill="#8856b8" />
<circle cx="139.33" cy="231.41" r="0.7" fill="#8856b8" />
<circle cx="142.23" cy="228.9" r="0.7" fill="#8856b8" />
<circle cx="151.83" cy="231.28" r="0.7" fill="#8856b8" />
<circle cx="147.49" cy="239.46" r="0.7" fill="#8856b8" />
<circle cx="158.32" cy="241.95" r="0.7" fill="#b0509a" />
<circle cx="157.52" cy="247.22" r="0.7" fill="#b0509a" />
<circle cx="154.81" cy="240.75" r="0.7" fill="#b0509a" />
<circle cx="156.3" cy="248.97" r="0.7" fill="#b0509a" />
<circle cx="152.02" cy="237.81" r="0.7" fill="#b0509a" />
<circle cx="155.9" cy="239.34" r="0.7" fill="#b0509a" />
<circle cx="149.64" cy="238.26" r="0.7" fill="#b0509a" />
<circle cx="148.76" cy="238.82" r="0.7" fill="#b0509a" />
<circle cx="152.68" cy="240.27" r="0.7" fill="#b0509a" />
<circle cx="159.39" cy="240.06" r="0.7" fill="#b0509a" />
<circle cx="155.5" cy="238.49" r="0.7" fill="#b0509a" />
<circle cx="159" cy="243.71" r="0.7" fill="#b0509a" />
<circle cx="150.84" cy="242.65" r="0.7" fill="#b0509a" />
<circle cx="160.28" cy="242.05" r="0.7" fill="#b0509a" />
<circle cx="155.43" cy="247.68" r="0.7" fill="#b0509a" />
<circle cx="153.9" cy="243.09" r="0.7" fill="#b0509a" />
<circle cx="153.14" cy="247.65" r="0.7" fill="#b0509a" />
<circle cx="158.6" cy="244.9" r="0.7" fill="#b0509a" />
<circle cx="154.07" cy="240.87" r="0.7" fill="#b0509a" />
<circle cx="148.82" cy="237.82" r="0.7" fill="#b0509a" />
<circle cx="151.83" cy="238.29" r="0.7" fill="#b0509a" />
<circle cx="161.06" cy="245.39" r="0.7" fill="#b0509a" />
<circle cx="152.23" cy="239.39" r="0.7" fill="#b0509a" />
<circle cx="152.4" cy="242.43" r="0.7" fill="#b0509a" />
<circle cx="150.36" cy="242.24" r="0.7" fill="#b0509a" />
<circle cx="152.64" cy="240.99" r="0.7" fill="#b0509a" />
<circle cx="155.12" cy="243.04" r="0.7" fill="#b0509a" />
<circle cx="151.01" cy="243.07" r="0.7" fill="#b0509a" />
<circle cx="149.35" cy="241.59" r="0.7" fill="#b0509a" />
<circle cx="152.56" cy="239.26" r="0.7" fill="#b0509a" />
<circle cx="161" cy="240" r="0.6" fill="#f0a070" />
<circle cx="162.5" cy="242" r="0.6" fill="#f0a070" />
<circle cx="161.5" cy="244.5" r="0.6" fill="#f0a070" />
<circle cx="163" cy="239" r="0.6" fill="#f0a070" />
<circle cx="142.5" cy="220" r="0.55" fill="#5cc4ea" />
<circle cx="144" cy="221.5" r="0.55" fill="#5cc4ea" />
<circle cx="146" cy="220.5" r="0.55" fill="#5cc4ea" />
<circle cx="147.5" cy="222.8" r="0.55" fill="#5cc4ea" />
<circle cx="145" cy="223.2" r="0.55" fill="#5cc4ea" />
<circle cx="148.6" cy="220" r="0.55" fill="#5cc4ea" />
<circle cx="169" cy="206" r="0.6" fill="#9ad6ea" />
<circle cx="149.45" cy="247" r="0.6" fill="#d83878" />
<circle cx="149.35" cy="248.1" r="0.6" fill="#d83878" />
<circle cx="149.75" cy="249.2" r="0.6" fill="#d83878" />
<circle cx="149.58" cy="250.3" r="0.6" fill="#d83878" />
<circle cx="149.69" cy="251.4" r="0.6" fill="#d83878" />
<circle cx="149.98" cy="252.5" r="0.6" fill="#d83878" />
<circle cx="149.1" cy="253.6" r="0.6" fill="#d83878" />
<circle cx="148.99" cy="254.7" r="0.6" fill="#d83878" />
<circle cx="150.17" cy="255.8" r="0.6" fill="#d83878" />
<circle cx="148.67" cy="256.9" r="0.6" fill="#d83878" />
<circle cx="149.7" cy="258" r="0.6" fill="#d83878" />
<circle cx="167.29" cy="276.78" r="0.7" fill="#e6387e" />
<circle cx="162.61" cy="273.54" r="0.7" fill="#e6387e" />
<circle cx="160.28" cy="268.84" r="0.7" fill="#e6387e" />
<circle cx="167.29" cy="275" r="0.7" fill="#e6387e" />
<circle cx="167.09" cy="270.47" r="0.7" fill="#e6387e" />
<circle cx="168.59" cy="272.5" r="0.7" fill="#e6387e" />
<circle cx="149.2" cy="261.23" r="0.7" fill="#e6387e" />
<circle cx="167.31" cy="269.95" r="0.7" fill="#e6387e" />
<circle cx="162.62" cy="271.34" r="0.7" fill="#e6387e" />
<circle cx="163.81" cy="268.53" r="0.7" fill="#e6387e" />
<circle cx="165.34" cy="268.81" r="0.7" fill="#e6387e" />
<circle cx="160.54" cy="272.02" r="0.7" fill="#e6387e" />
<circle cx="154.48" cy="273.45" r="0.7" fill="#e6387e" />
<circle cx="153.12" cy="273.67" r="0.7" fill="#e6387e" />
<circle cx="157.11" cy="268.32" r="0.7" fill="#e6387e" />
<circle cx="163.88" cy="274.22" r="0.7" fill="#e6387e" />
<circle cx="162.38" cy="271.68" r="0.7" fill="#e6387e" />
<circle cx="150.24" cy="261.52" r="0.7" fill="#e6387e" />
<circle cx="154.21" cy="273.74" r="0.7" fill="#e6387e" />
<circle cx="155.35" cy="270.14" r="0.7" fill="#e6387e" />
<circle cx="148.78" cy="259.74" r="0.7" fill="#e6387e" />
<circle cx="154.55" cy="272.28" r="0.7" fill="#e6387e" />
<circle cx="164.07" cy="272.35" r="0.7" fill="#e6387e" />
<circle cx="155.04" cy="269.09" r="0.7" fill="#e6387e" />
<circle cx="158.95" cy="268.06" r="0.7" fill="#e6387e" />
<circle cx="158.83" cy="275.31" r="0.7" fill="#e6387e" />
<circle cx="160.29" cy="278.03" r="0.7" fill="#e6387e" />
<circle cx="159.95" cy="276.68" r="0.7" fill="#e6387e" />
<circle cx="168.7" cy="268.47" r="0.7" fill="#e6387e" />
<circle cx="159.56" cy="267.74" r="0.7" fill="#e6387e" />
<circle cx="156.24" cy="264.98" r="0.7" fill="#e6387e" />
<circle cx="165.39" cy="275.7" r="0.7" fill="#e6387e" />
<circle cx="164.54" cy="276.98" r="0.7" fill="#e6387e" />
<circle cx="155.02" cy="266.13" r="0.7" fill="#e6387e" />
<circle cx="149.59" cy="260.59" r="0.7" fill="#e6387e" />
<circle cx="154.48" cy="268.97" r="0.7" fill="#e6387e" />
<circle cx="152.77" cy="266.15" r="0.7" fill="#e6387e" />
<circle cx="166.77" cy="271.43" r="0.7" fill="#e6387e" />
<circle cx="160.86" cy="273.25" r="0.7" fill="#e6387e" />
<circle cx="158.64" cy="273.93" r="0.7" fill="#e6387e" />
<circle cx="151.36" cy="268.18" r="0.7" fill="#e6387e" />
<circle cx="156.23" cy="264.6" r="0.7" fill="#e6387e" />
<circle cx="154.35" cy="271.95" r="0.7" fill="#e6387e" />
<circle cx="155.27" cy="269.93" r="0.7" fill="#e6387e" />
<circle cx="152.14" cy="262.76" r="0.7" fill="#e6387e" />
<circle cx="168.88" cy="268.69" r="0.7" fill="#e6387e" />
<circle cx="151.64" cy="262.44" r="0.7" fill="#e6387e" />
<circle cx="150.54" cy="265.51" r="0.7" fill="#e6387e" />
<circle cx="150.55" cy="263.4" r="0.7" fill="#e6387e" />
<circle cx="154.31" cy="270.18" r="0.7" fill="#e6387e" />
<circle cx="168.46" cy="273.87" r="0.7" fill="#e6387e" />
<circle cx="157.79" cy="266.98" r="0.7" fill="#e6387e" />
<circle cx="160.29" cy="266.23" r="0.7" fill="#e6387e" />
<circle cx="151.33" cy="268.82" r="0.7" fill="#e6387e" />
<circle cx="162.67" cy="276.19" r="0.7" fill="#e6387e" />
<circle cx="153.36" cy="264.06" r="0.7" fill="#e6387e" />
<circle cx="154.09" cy="266.7" r="0.7" fill="#e6387e" />
<circle cx="158.53" cy="278.06" r="0.7" fill="#e6387e" />
<circle cx="167.6" cy="276.39" r="0.7" fill="#e6387e" />
<circle cx="148.99" cy="259.16" r="0.7" fill="#e6387e" />
<circle cx="164.46" cy="276.86" r="0.7" fill="#e6387e" />
<circle cx="159.15" cy="270.54" r="0.7" fill="#e6387e" />
<circle cx="148.5" cy="266.53" r="0.7" fill="#e6387e" />
<circle cx="169.35" cy="275.42" r="0.7" fill="#e6387e" />
<circle cx="151.97" cy="269.21" r="0.7" fill="#e6387e" />
<circle cx="163.85" cy="277.8" r="0.7" fill="#e6387e" />
<circle cx="164.74" cy="271.77" r="0.7" fill="#e6387e" />
<circle cx="165.71" cy="267.88" r="0.7" fill="#e6387e" />
<circle cx="169.2" cy="271.73" r="0.7" fill="#e6387e" />
<circle cx="154.17" cy="271.54" r="0.7" fill="#e6387e" />
<circle cx="150.08" cy="269.25" r="0.7" fill="#e6387e" />
<circle cx="161.62" cy="266.46" r="0.7" fill="#e6387e" />
<circle cx="153.53" cy="270.82" r="0.7" fill="#e6387e" />
<circle cx="148.74" cy="264.68" r="0.7" fill="#e6387e" />
<circle cx="158.87" cy="278.16" r="0.7" fill="#e6387e" />
<circle cx="163" cy="276.62" r="0.7" fill="#e6387e" />
<circle cx="148.99" cy="268.72" r="0.7" fill="#e6387e" />
<circle cx="163.68" cy="267.11" r="0.7" fill="#e6387e" />
<circle cx="154.29" cy="272.18" r="0.7" fill="#e6387e" />
<circle cx="149.27" cy="265.43" r="0.7" fill="#e6387e" />
<circle cx="157.96" cy="272.49" r="0.7" fill="#e6387e" />
<circle cx="152.96" cy="274.84" r="0.7" fill="#e6387e" />
<circle cx="165.13" cy="268.85" r="0.7" fill="#e6387e" />
<circle cx="155.51" cy="275.31" r="0.7" fill="#e6387e" />
<circle cx="153.69" cy="263.04" r="0.7" fill="#e6387e" />
<circle cx="152.71" cy="263.08" r="0.7" fill="#e6387e" />
<circle cx="157.88" cy="272.14" r="0.7" fill="#e6387e" />
<circle cx="149.67" cy="259.73" r="0.7" fill="#e6387e" />
<circle cx="157.35" cy="276.91" r="0.7" fill="#e6387e" />
<circle cx="168.38" cy="273.52" r="0.7" fill="#e6387e" />
<circle cx="169.56" cy="273.8" r="0.7" fill="#e6387e" />
<circle cx="157.02" cy="266.16" r="0.7" fill="#e6387e" />
<circle cx="148.56" cy="264.24" r="0.7" fill="#e6387e" />
<circle cx="153.17" cy="265.81" r="0.7" fill="#e6387e" />
<circle cx="166.99" cy="275.35" r="0.7" fill="#e6387e" />
<circle cx="159.15" cy="266.14" r="0.7" fill="#e6387e" />
<circle cx="156.7" cy="276.89" r="0.7" fill="#e6387e" />
<circle cx="149.18" cy="266.92" r="0.7" fill="#e6387e" />
<circle cx="166.77" cy="274.22" r="0.7" fill="#e6387e" />
<circle cx="149.41" cy="259.21" r="0.7" fill="#e6387e" />
<circle cx="154.28" cy="273.82" r="0.7" fill="#e6387e" />
<circle cx="165.5" cy="277.29" r="0.7" fill="#e6387e" />
<circle cx="162.76" cy="277.84" r="0.7" fill="#e6387e" />
<circle cx="149.05" cy="263.29" r="0.7" fill="#e6387e" />
<circle cx="159.19" cy="278.11" r="0.7" fill="#e6387e" />
<circle cx="154.15" cy="267.31" r="0.7" fill="#e6387e" />
<circle cx="159.6" cy="277.53" r="0.7" fill="#e6387e" />
<circle cx="152.62" cy="274.95" r="0.7" fill="#e6387e" />
<circle cx="165.12" cy="275.37" r="0.7" fill="#e6387e" />
<circle cx="165.89" cy="270.95" r="0.7" fill="#e6387e" />
<circle cx="155.88" cy="265.05" r="0.7" fill="#e6387e" />
<circle cx="156.64" cy="274.54" r="0.7" fill="#e6387e" />
<circle cx="150.28" cy="262.54" r="0.7" fill="#e6387e" />
<circle cx="149.96" cy="259.19" r="0.7" fill="#e6387e" />
<circle cx="150.39" cy="260.48" r="0.7" fill="#e6387e" />
<circle cx="159.72" cy="273.05" r="0.7" fill="#e6387e" />
<circle cx="157.88" cy="271.22" r="0.7" fill="#e6387e" />
<circle cx="163.67" cy="273.83" r="0.7" fill="#e6387e" />
<circle cx="167.56" cy="272.12" r="0.7" fill="#e6387e" />
<circle cx="155.11" cy="270.12" r="0.7" fill="#e6387e" />
<circle cx="150.18" cy="269.2" r="0.7" fill="#e02a68" />
<circle cx="149.4" cy="262.09" r="0.7" fill="#e02a68" />
<circle cx="149.6" cy="260.72" r="0.7" fill="#e02a68" />
<circle cx="152.48" cy="266.89" r="0.7" fill="#e02a68" />
<circle cx="149.97" cy="264.24" r="0.7" fill="#e02a68" />
<circle cx="149.54" cy="270.22" r="0.7" fill="#e02a68" />
<circle cx="148.96" cy="265.38" r="0.7" fill="#e02a68" />
<circle cx="152.19" cy="270.69" r="0.7" fill="#e02a68" />
<circle cx="149.82" cy="260.23" r="0.7" fill="#e02a68" />
<circle cx="150.18" cy="271.06" r="0.7" fill="#e02a68" />
<circle cx="150.52" cy="262.27" r="0.7" fill="#e02a68" />
<circle cx="148.98" cy="267.14" r="0.7" fill="#e02a68" />
<circle cx="151.29" cy="261.66" r="0.7" fill="#e02a68" />
<circle cx="150.16" cy="260.55" r="0.7" fill="#e02a68" />
<circle cx="149.42" cy="262.2" r="0.7" fill="#e02a68" />
<circle cx="151.2" cy="267.95" r="0.7" fill="#e02a68" />
<circle cx="149.97" cy="268.34" r="0.7" fill="#e02a68" />
<circle cx="149.33" cy="263.03" r="0.7" fill="#e02a68" />
<circle cx="149.42" cy="270.03" r="0.7" fill="#e02a68" />
<circle cx="150.97" cy="259.42" r="0.7" fill="#e02a68" />
<circle cx="148.96" cy="264.23" r="0.7" fill="#e02a68" />
<circle cx="150.98" cy="267.77" r="0.7" fill="#e02a68" />
<circle cx="148.91" cy="260.87" r="0.7" fill="#e02a68" />
<circle cx="151.63" cy="264.44" r="0.7" fill="#e02a68" />
<circle cx="149.77" cy="262.96" r="0.7" fill="#e02a68" />
<circle cx="151.05" cy="263.68" r="0.7" fill="#e02a68" />
<circle cx="150.37" cy="271.03" r="0.7" fill="#e02a68" />
<circle cx="149.39" cy="269.06" r="0.7" fill="#e02a68" />
<circle cx="152.19" cy="264.39" r="0.7" fill="#e02a68" />
<circle cx="149.23" cy="258.72" r="0.7" fill="#e02a68" />
<circle cx="150.98" cy="267.79" r="0.7" fill="#e02a68" />
<circle cx="151.3" cy="263.88" r="0.7" fill="#e02a68" />
<circle cx="150.77" cy="260.62" r="0.7" fill="#e02a68" />
<circle cx="149.77" cy="266.06" r="0.7" fill="#e02a68" />
<circle cx="150.71" cy="270.17" r="0.7" fill="#e02a68" />
<circle cx="150.25" cy="271.61" r="0.7" fill="#e02a68" />
<circle cx="151.29" cy="270.46" r="0.7" fill="#e02a68" />
<circle cx="149.5" cy="264.37" r="0.7" fill="#e02a68" />
<circle cx="152.31" cy="270.52" r="0.7" fill="#e02a68" />
<circle cx="149.32" cy="261.66" r="0.7" fill="#e02a68" />
<circle cx="222.62" cy="240.74" r="0.7" fill="#2ab0d4" />
<circle cx="221.2" cy="247.59" r="0.7" fill="#2ab0d4" />
<circle cx="224.13" cy="248.67" r="0.7" fill="#2ab0d4" />
<circle cx="224.02" cy="244.36" r="0.7" fill="#2ab0d4" />
<circle cx="224.32" cy="237.69" r="0.7" fill="#2ab0d4" />
<circle cx="225.03" cy="238.39" r="0.7" fill="#2ab0d4" />
<circle cx="222.98" cy="224.37" r="0.7" fill="#2ab0d4" />
<circle cx="224.66" cy="239.8" r="0.7" fill="#2ab0d4" />
<circle cx="221.09" cy="248.87" r="0.7" fill="#2ab0d4" />
<circle cx="226.15" cy="238.77" r="0.7" fill="#2ab0d4" />
<circle cx="223.01" cy="240.49" r="0.7" fill="#2ab0d4" />
<circle cx="226.13" cy="240.53" r="0.7" fill="#2ab0d4" />
<circle cx="222.41" cy="255.07" r="0.7" fill="#2ab0d4" />
<circle cx="220.17" cy="251.97" r="0.7" fill="#2ab0d4" />
<circle cx="227.8" cy="253.92" r="0.7" fill="#2ab0d4" />
<circle cx="222.16" cy="248.63" r="0.7" fill="#2ab0d4" />
<circle cx="220.38" cy="253.28" r="0.7" fill="#2ab0d4" />
<circle cx="221.46" cy="250.6" r="0.7" fill="#2ab0d4" />
<circle cx="223.84" cy="244.66" r="0.7" fill="#2ab0d4" />
<circle cx="222.25" cy="252.49" r="0.7" fill="#2ab0d4" />
<circle cx="224.06" cy="242.8" r="0.7" fill="#2ab0d4" />
<circle cx="222.57" cy="250" r="0.7" fill="#2ab0d4" />
<circle cx="221.36" cy="256.39" r="0.7" fill="#2ab0d4" />
<circle cx="224.27" cy="235.52" r="0.7" fill="#2ab0d4" />
<circle cx="226.01" cy="238.24" r="0.7" fill="#2ab0d4" />
<circle cx="225.07" cy="233.95" r="0.7" fill="#2ab0d4" />
<circle cx="222.92" cy="240.57" r="0.7" fill="#2ab0d4" />
<circle cx="224.33" cy="243.1" r="0.7" fill="#2ab0d4" />
<circle cx="223.32" cy="228.06" r="0.7" fill="#2ab0d4" />
<circle cx="224.84" cy="252.44" r="0.7" fill="#2ab0d4" />
<circle cx="224.9" cy="242.21" r="0.7" fill="#2ab0d4" />
<circle cx="222.16" cy="244.97" r="0.7" fill="#2ab0d4" />
<circle cx="223.03" cy="254.62" r="0.7" fill="#2ab0d4" />
<circle cx="225.72" cy="231.83" r="0.7" fill="#2ab0d4" />
<circle cx="223.84" cy="237.04" r="0.7" fill="#2ab0d4" />
<circle cx="224.02" cy="254.74" r="0.7" fill="#2ab0d4" />
<circle cx="224.56" cy="240.38" r="0.7" fill="#2ab0d4" />
<circle cx="224.87" cy="250.52" r="0.7" fill="#2ab0d4" />
<circle cx="227.17" cy="249.52" r="0.7" fill="#2ab0d4" />
<circle cx="225.55" cy="223.81" r="0.7" fill="#2ab0d4" />
<circle cx="226.75" cy="248.27" r="0.7" fill="#2ab0d4" />
<circle cx="223.23" cy="248.15" r="0.7" fill="#2ab0d4" />
<circle cx="223.11" cy="231.08" r="0.7" fill="#2ab0d4" />
<circle cx="225.87" cy="246.61" r="0.7" fill="#2ab0d4" />
<circle cx="226.76" cy="247.16" r="0.7" fill="#2ab0d4" />
<circle cx="222.96" cy="249.7" r="0.7" fill="#2ab0d4" />
<circle cx="223.77" cy="232.38" r="0.7" fill="#2ab0d4" />
<circle cx="224.87" cy="255.55" r="0.7" fill="#2ab0d4" />
<circle cx="220.92" cy="252.73" r="0.7" fill="#2ab0d4" />
<circle cx="221.1" cy="248.22" r="0.7" fill="#2ab0d4" />
<circle cx="221.94" cy="252.73" r="0.7" fill="#2ab0d4" />
<circle cx="225.34" cy="245.62" r="0.7" fill="#2ab0d4" />
<circle cx="226.71" cy="246.69" r="0.7" fill="#2ab0d4" />
<circle cx="225.64" cy="242.48" r="0.7" fill="#2ab0d4" />
<circle cx="224.69" cy="226.18" r="0.7" fill="#2ab0d4" />
<circle cx="224.8" cy="246.67" r="0.7" fill="#2ab0d4" />
<circle cx="224.39" cy="235.63" r="0.7" fill="#2ab0d4" />
<circle cx="226.5" cy="250.73" r="0.7" fill="#2ab0d4" />
<circle cx="226.97" cy="253.87" r="0.7" fill="#2ab0d4" />
<circle cx="226.45" cy="244.59" r="0.7" fill="#2ab0d4" />
<circle cx="226.57" cy="244.5" r="0.7" fill="#2ab0d4" />
<circle cx="225.56" cy="235.78" r="0.7" fill="#2ab0d4" />
<circle cx="221.88" cy="255.51" r="0.7" fill="#2ab0d4" />
<circle cx="223.58" cy="251.78" r="0.7" fill="#2ab0d4" />
<circle cx="224.65" cy="224.63" r="0.7" fill="#2ab0d4" />
<circle cx="225.45" cy="241.4" r="0.7" fill="#2ab0d4" />
<circle cx="220.91" cy="252.14" r="0.7" fill="#2ab0d4" />
<circle cx="223.46" cy="239.87" r="0.7" fill="#2ab0d4" />
<circle cx="223.5" cy="235.09" r="0.7" fill="#2ab0d4" />
<circle cx="223.53" cy="227.24" r="0.7" fill="#2ab0d4" />
<circle cx="224.82" cy="226.28" r="0.7" fill="#2ab0d4" />
<circle cx="226.23" cy="246.68" r="0.7" fill="#2ab0d4" />
<circle cx="226.22" cy="244.38" r="0.7" fill="#2ab0d4" />
<circle cx="222.57" cy="253.07" r="0.7" fill="#2ab0d4" />
<circle cx="221.35" cy="253.43" r="0.7" fill="#2ab0d4" />
<circle cx="223.56" cy="236.16" r="0.7" fill="#2ab0d4" />
<circle cx="223.19" cy="241.19" r="0.7" fill="#2ab0d4" />
<circle cx="225.92" cy="248.52" r="0.7" fill="#2ab0d4" />
<circle cx="224.91" cy="235.13" r="0.7" fill="#2ab0d4" />
<circle cx="226.74" cy="245.52" r="0.7" fill="#2ab0d4" />
<circle cx="224.67" cy="227.53" r="0.7" fill="#2ab0d4" />
<circle cx="223.58" cy="240.09" r="0.7" fill="#2ab0d4" />
<circle cx="224.09" cy="226.62" r="0.7" fill="#2ab0d4" />
<circle cx="223.66" cy="242.41" r="0.7" fill="#2ab0d4" />
<circle cx="222.86" cy="227.98" r="0.7" fill="#2ab0d4" />
<circle cx="223.09" cy="238.63" r="0.7" fill="#2ab0d4" />
<circle cx="225.04" cy="227.22" r="0.7" fill="#2ab0d4" />
<circle cx="222.56" cy="229.15" r="0.7" fill="#2ab0d4" />
<circle cx="223.18" cy="234.86" r="0.7" fill="#2ab0d4" />
<circle cx="222.58" cy="230.82" r="0.7" fill="#2ab0d4" />
<circle cx="224.62" cy="226.12" r="0.7" fill="#2ab0d4" />
<circle cx="223.38" cy="244.46" r="0.7" fill="#2ab0d4" />
<circle cx="224.86" cy="239.25" r="0.7" fill="#2ab0d4" />
<circle cx="223.57" cy="228.08" r="0.7" fill="#2ab0d4" />
<circle cx="224.3" cy="226.22" r="0.7" fill="#2ab0d4" />
<circle cx="222.74" cy="232.08" r="0.7" fill="#2ab0d4" />
<circle cx="224.85" cy="238.42" r="0.7" fill="#2ab0d4" />
<circle cx="223.8" cy="237.15" r="0.7" fill="#2ab0d4" />
<circle cx="223.67" cy="226.95" r="0.7" fill="#2ab0d4" />
<circle cx="224.17" cy="232.42" r="0.7" fill="#2ab0d4" />
<circle cx="224.67" cy="242.89" r="0.7" fill="#2ab0d4" />
<circle cx="223.55" cy="235.94" r="0.7" fill="#2ab0d4" />
<circle cx="224.7" cy="232.76" r="0.7" fill="#2ab0d4" />
<circle cx="222.82" cy="239.02" r="0.7" fill="#2ab0d4" />
<circle cx="225.17" cy="240.1" r="0.7" fill="#2ab0d4" />
<circle cx="224.52" cy="241.73" r="0.7" fill="#2ab0d4" />
<circle cx="224.45" cy="237.34" r="0.7" fill="#2ab0d4" />
<circle cx="223.63" cy="230.51" r="0.7" fill="#2ab0d4" />
<circle cx="224.26" cy="226.04" r="0.7" fill="#2ab0d4" />
<circle cx="223.51" cy="240.27" r="0.7" fill="#2ab0d4" />
<circle cx="226.66" cy="220.27" r="0.55" fill="#2ab0d4" />
<circle cx="222.08" cy="219.2" r="0.55" fill="#2ab0d4" />
<circle cx="224.11" cy="220.23" r="0.55" fill="#2ab0d4" />
<circle cx="223.65" cy="220.51" r="0.55" fill="#2ab0d4" />
<circle cx="228.81" cy="217.95" r="0.55" fill="#2ab0d4" />
<circle cx="226.08" cy="221.05" r="0.55" fill="#2ab0d4" />
<circle cx="223.45" cy="219.55" r="0.55" fill="#2ab0d4" />
<circle cx="229.25" cy="217.2" r="0.55" fill="#2ab0d4" />
<circle cx="224.98" cy="217.84" r="0.55" fill="#2ab0d4" />
<circle cx="227.34" cy="221.89" r="0.55" fill="#2ab0d4" />
<path d="M285.8 195.5 L289.4 194.6 L294.3 195.5 L300.3 194.6 L304 195.5 L306.4 198.5 L307.6 203.3 L310 208.2 L313.1 211.2 L314.9 213.7 L313.1 216.1 L316.1 219.1 L317.9 221.6 L316.7 225.2 L313.7 228.8 L310 231.9 L305.2 234.3 L299.1 236.7 L293.1 236.7 L289.4 235.5 L288.2 231.3 L288.8 225.2 L288.2 220.3 L287 214.3 L286.4 207 L285.8 200.9Z" fill="#1fb8da" />
<path d="M277.3 230 L280.9 226.4 L284.6 222.8 L286.4 221 L287 225.2 L286.4 230 L287 233.7 L282.1 233.7 L277.3 233.1Z" fill="#1fb8da" />
<path d="M273.8 234.6 L282.6 234 L290.3 234.6 L291.4 236 L288.1 237.6 L282.6 240.4 L283.1 245.9 L281.5 247.6 L279.8 244.8 L278.2 240.4 L275.4 238.7 L273.8 237Z" fill="#ec7452" />
<circle cx="294" cy="213.5" r="0.55" fill="#ffffff" />
<circle cx="296" cy="214.2" r="0.55" fill="#ffffff" />
<circle cx="298.5" cy="213.2" r="0.55" fill="#ffffff" />
<circle cx="301" cy="214" r="0.55" fill="#ffffff" />
<circle cx="303.5" cy="213.4" r="0.55" fill="#ffffff" />
<circle cx="299.5" cy="215" r="0.55" fill="#ffffff" />
<circle cx="269.95" cy="241.17" r="0.6" fill="#6a4aa6" />
<circle cx="270.53" cy="248.43" r="0.6" fill="#6a4aa6" />
<circle cx="272.03" cy="247.95" r="0.6" fill="#6a4aa6" />
<circle cx="271.21" cy="253.18" r="0.6" fill="#6a4aa6" />
<circle cx="269.98" cy="246.27" r="0.6" fill="#6a4aa6" />
<circle cx="274.45" cy="242.97" r="0.6" fill="#6a4aa6" />
<circle cx="271.69" cy="245.98" r="0.6" fill="#6a4aa6" />
<circle cx="272.51" cy="241.52" r="0.6" fill="#6a4aa6" />
<circle cx="265.09" cy="244.03" r="0.6" fill="#6a4aa6" />
<circle cx="268.9" cy="246.44" r="0.6" fill="#6a4aa6" />
<circle cx="271.83" cy="245.31" r="0.6" fill="#6a4aa6" />
<circle cx="267.28" cy="243.2" r="0.6" fill="#6a4aa6" />
<circle cx="272.29" cy="255.01" r="0.6" fill="#6a4aa6" />
<circle cx="270.03" cy="243.11" r="0.6" fill="#6a4aa6" />
<circle cx="272.92" cy="245.97" r="0.6" fill="#6a4aa6" />
<circle cx="266.73" cy="241.63" r="0.6" fill="#6a4aa6" />
<circle cx="272.65" cy="252.86" r="0.6" fill="#6a4aa6" />
<circle cx="271.16" cy="247.24" r="0.6" fill="#6a4aa6" />
<circle cx="270.4" cy="243.23" r="0.6" fill="#6a4aa6" />
<circle cx="274.62" cy="245.33" r="0.6" fill="#6a4aa6" />
<circle cx="271.21" cy="253.01" r="0.6" fill="#6a4aa6" />
<circle cx="273.07" cy="247.22" r="0.6" fill="#6a4aa6" />
<circle cx="267.59" cy="248.55" r="0.6" fill="#6a4aa6" />
<circle cx="268.22" cy="253.54" r="0.6" fill="#6a4aa6" />
<circle cx="267.31" cy="245.71" r="0.6" fill="#6a4aa6" />
<circle cx="267.16" cy="246.53" r="0.6" fill="#6a4aa6" />
<circle cx="272.08" cy="244.14" r="0.6" fill="#6a4aa6" />
<circle cx="267.07" cy="244.48" r="0.6" fill="#6a4aa6" />
<circle cx="269.54" cy="246.57" r="0.6" fill="#6a4aa6" />
<circle cx="271.19" cy="250.38" r="0.6" fill="#6a4aa6" />
<circle cx="268.31" cy="254.82" r="0.6" fill="#6a4aa6" />
<circle cx="272.73" cy="241.82" r="0.6" fill="#6a4aa6" />
<circle cx="262.48" cy="234.63" r="0.6" fill="#78c8e4" />
<circle cx="263.85" cy="234.93" r="0.6" fill="#78c8e4" />
<circle cx="255.85" cy="227.72" r="0.6" fill="#78c8e4" />
<circle cx="254.63" cy="229.44" r="0.6" fill="#78c8e4" />
<circle cx="261.85" cy="230.9" r="0.6" fill="#78c8e4" />
<circle cx="263.16" cy="234.31" r="0.6" fill="#78c8e4" />
<circle cx="261.91" cy="235.09" r="0.6" fill="#78c8e4" />
<circle cx="263.19" cy="236.64" r="0.6" fill="#78c8e4" />
<circle cx="260.9" cy="233.3" r="0.6" fill="#78c8e4" />
<circle cx="261.46" cy="232.1" r="0.6" fill="#78c8e4" />
<circle cx="263.06" cy="233.62" r="0.6" fill="#78c8e4" />
<circle cx="256.02" cy="229.44" r="0.6" fill="#78c8e4" />
<circle cx="266.07" cy="256.99" r="0.6" fill="#d8508e" />
<circle cx="266.47" cy="259.46" r="0.6" fill="#d8508e" />
<circle cx="266.87" cy="261.99" r="0.6" fill="#d8508e" />
<circle cx="267.8" cy="264.55" r="0.6" fill="#d8508e" />
<circle cx="268.44" cy="266.91" r="0.6" fill="#d8508e" />
<circle cx="270.41" cy="269.46" r="0.6" fill="#d8508e" />
<circle cx="272.58" cy="271.7" r="0.6" fill="#d8508e" />
<circle cx="275.41" cy="273.35" r="0.6" fill="#d8508e" />
<circle cx="277.9" cy="276.55" r="0.6" fill="#d8508e" />
<circle cx="280.49" cy="278.66" r="0.6" fill="#d8508e" />
<circle cx="284.16" cy="278.43" r="0.6" fill="#d8508e" />
<circle cx="286.63" cy="277.22" r="0.6" fill="#d8508e" />
<circle cx="287.92" cy="273.3" r="0.6" fill="#d8508e" />
<circle cx="286.58" cy="270.01" r="0.6" fill="#d8508e" />
<circle cx="283.98" cy="268.98" r="0.6" fill="#d8508e" />
<circle cx="282.44" cy="271.26" r="0.6" fill="#d8508e" />
<circle cx="285.65" cy="271.31" r="0.6" fill="#d8508e" />
<circle cx="279.93" cy="279.44" r="0.6" fill="#d8508e" />
<circle cx="276.47" cy="278.53" r="0.6" fill="#d8508e" />
<circle cx="262" cy="246" r="0.55" fill="#c070a8" />
<circle cx="263" cy="251" r="0.55" fill="#c070a8" />
<circle cx="276" cy="244" r="0.55" fill="#c070a8" />
<circle cx="278" cy="252" r="0.55" fill="#c070a8" />
<circle cx="272" cy="260" r="0.55" fill="#c070a8" />
<circle cx="271" cy="265" r="0.55" fill="#c070a8" />
<circle cx="336.98" cy="227.8" r="0.6" fill="#2ab0d4" />
<circle cx="336.56" cy="227.04" r="0.6" fill="#2ab0d4" />
<circle cx="336.78" cy="226.56" r="0.6" fill="#2ab0d4" />
<circle cx="336.46" cy="225.51" r="0.6" fill="#2ab0d4" />
<circle cx="336.67" cy="224.01" r="0.6" fill="#2ab0d4" />
<circle cx="336.91" cy="222.56" r="0.6" fill="#2ab0d4" />
<circle cx="338.31" cy="221.32" r="0.6" fill="#2ab0d4" />
<circle cx="338.48" cy="219.41" r="0.6" fill="#2ab0d4" />
<circle cx="338.24" cy="217.92" r="0.6" fill="#2ab0d4" />
<circle cx="339.25" cy="218.04" r="0.6" fill="#2ab0d4" />
<circle cx="340.15" cy="216.86" r="0.6" fill="#2ab0d4" />
<circle cx="340.69" cy="217.69" r="0.6" fill="#2ab0d4" />
<circle cx="341.06" cy="216.17" r="0.6" fill="#2ab0d4" />
<circle cx="341.42" cy="215.98" r="0.6" fill="#2ab0d4" />
<circle cx="341.97" cy="217.14" r="0.6" fill="#2ab0d4" />
<circle cx="343.25" cy="216.65" r="0.6" fill="#2ab0d4" />
<circle cx="344.2" cy="216.87" r="0.6" fill="#2ab0d4" />
<circle cx="344.63" cy="216.64" r="0.6" fill="#2ab0d4" />
<circle cx="345.33" cy="216.92" r="0.6" fill="#2ab0d4" />
<circle cx="345.96" cy="217.08" r="0.6" fill="#2ab0d4" />
<circle cx="346.1" cy="217.23" r="0.6" fill="#2ab0d4" />
<circle cx="346.94" cy="217.67" r="0.6" fill="#2ab0d4" />
<circle cx="346.94" cy="217.15" r="0.6" fill="#2ab0d4" />
<circle cx="347.35" cy="218.28" r="0.6" fill="#2ab0d4" />
<circle cx="349.08" cy="218.42" r="0.6" fill="#2ab0d4" />
<circle cx="348.64" cy="219.35" r="0.6" fill="#2ab0d4" />
<circle cx="349.55" cy="219.69" r="0.6" fill="#2ab0d4" />
<circle cx="349.14" cy="220.02" r="0.6" fill="#2ab0d4" />
<circle cx="349.69" cy="220.75" r="0.6" fill="#2ab0d4" />
<circle cx="349.88" cy="222.17" r="0.6" fill="#2ab0d4" />
<circle cx="350.76" cy="222.33" r="0.6" fill="#2ab0d4" />
<circle cx="350.42" cy="223.28" r="0.6" fill="#2ab0d4" />
<circle cx="349.97" cy="225.33" r="0.6" fill="#2ab0d4" />
<circle cx="350.26" cy="226.14" r="0.6" fill="#2ab0d4" />
<circle cx="349.73" cy="225.52" r="0.6" fill="#2ab0d4" />
<circle cx="349.29" cy="226.98" r="0.6" fill="#2ab0d4" />
<circle cx="340.6" cy="234.87" r="0.6" fill="#2ab0d4" />
<circle cx="338.98" cy="235.18" r="0.6" fill="#2ab0d4" />
<circle cx="337.51" cy="236.78" r="0.6" fill="#2ab0d4" />
<circle cx="336.81" cy="237.21" r="0.6" fill="#2ab0d4" />
<circle cx="335.62" cy="238.2" r="0.6" fill="#2ab0d4" />
<circle cx="335.81" cy="239.61" r="0.6" fill="#2ab0d4" />
<circle cx="335.38" cy="240.78" r="0.6" fill="#2ab0d4" />
<circle cx="334.35" cy="242.07" r="0.6" fill="#2ab0d4" />
<circle cx="332.11" cy="244.24" r="0.6" fill="#2ab0d4" />
<circle cx="331.6" cy="245.48" r="0.6" fill="#2ab0d4" />
<circle cx="330.63" cy="245.61" r="0.6" fill="#2ab0d4" />
<circle cx="330.69" cy="247.9" r="0.6" fill="#2ab0d4" />
<circle cx="329.95" cy="249.14" r="0.6" fill="#2ab0d4" />
<circle cx="327.83" cy="250.21" r="0.6" fill="#2ab0d4" />
<path d="M328 247 L330.5 244.7 L333.2 246 L333 251 L331.5 255.3 L329 255 L327.5 252Z" fill="#2ab0d4" />
<circle cx="332.26" cy="249.9" r="0.6" fill="#2ab0d4" />
<circle cx="333.59" cy="247.57" r="0.6" fill="#2ab0d4" />
<circle cx="333.79" cy="252.8" r="0.6" fill="#2ab0d4" />
<circle cx="328.07" cy="244.87" r="0.6" fill="#2ab0d4" />
<circle cx="331.9" cy="253.94" r="0.6" fill="#2ab0d4" />
<circle cx="328.48" cy="248.22" r="0.6" fill="#2ab0d4" />
<circle cx="332.38" cy="246.58" r="0.6" fill="#2ab0d4" />
<circle cx="333.17" cy="250.2" r="0.6" fill="#2ab0d4" />
<circle cx="328.36" cy="248.85" r="0.6" fill="#2ab0d4" />
<circle cx="331.45" cy="249.66" r="0.6" fill="#2ab0d4" />
<circle cx="416.68" cy="202.62" r="0.6" fill="#1fb8da" />
<circle cx="422.07" cy="199.61" r="0.6" fill="#1fb8da" />
<circle cx="412.98" cy="199.6" r="0.6" fill="#1fb8da" />
<circle cx="411.71" cy="213.94" r="0.6" fill="#1fb8da" />
<circle cx="422.27" cy="195.63" r="0.6" fill="#1fb8da" />
<circle cx="421.71" cy="197.79" r="0.6" fill="#1fb8da" />
<circle cx="418.27" cy="214.06" r="0.6" fill="#1fb8da" />
<circle cx="430.4" cy="206.98" r="0.6" fill="#1fb8da" />
<circle cx="423.47" cy="200.59" r="0.6" fill="#1fb8da" />
<circle cx="409.74" cy="200.43" r="0.6" fill="#1fb8da" />
<circle cx="424.61" cy="198.78" r="0.6" fill="#1fb8da" />
<circle cx="416.16" cy="218.71" r="0.6" fill="#1fb8da" />
<circle cx="426.28" cy="202.57" r="0.6" fill="#1fb8da" />
<circle cx="415.33" cy="198.25" r="0.6" fill="#1fb8da" />
<circle cx="428.71" cy="201.11" r="0.6" fill="#1fb8da" />
<circle cx="419.22" cy="210.47" r="0.6" fill="#1fb8da" />
<circle cx="418.74" cy="219.32" r="0.6" fill="#1fb8da" />
<circle cx="409.54" cy="202.25" r="0.6" fill="#1fb8da" />
<circle cx="422.64" cy="205.99" r="0.6" fill="#1fb8da" />
<circle cx="425.3" cy="197.72" r="0.6" fill="#1fb8da" />
<circle cx="426.4" cy="200.47" r="0.6" fill="#1fb8da" />
<circle cx="417.74" cy="222.08" r="0.6" fill="#1fb8da" />
<circle cx="423.34" cy="197.52" r="0.6" fill="#1fb8da" />
<circle cx="426.89" cy="204.02" r="0.6" fill="#1fb8da" />
<circle cx="428.25" cy="214.8" r="0.6" fill="#1fb8da" />
<circle cx="421.59" cy="201.37" r="0.6" fill="#1fb8da" />
<circle cx="419.51" cy="195.34" r="0.6" fill="#1fb8da" />
<circle cx="420.55" cy="220.7" r="0.6" fill="#1fb8da" />
<circle cx="415.3" cy="199.38" r="0.6" fill="#1fb8da" />
<circle cx="421.59" cy="217.35" r="0.6" fill="#1fb8da" />
<circle cx="419.58" cy="196.1" r="0.6" fill="#1fb8da" />
<circle cx="414.34" cy="210.5" r="0.6" fill="#1fb8da" />
<circle cx="423.47" cy="197.01" r="0.6" fill="#1fb8da" />
<circle cx="420.61" cy="220.5" r="0.6" fill="#1fb8da" />
<circle cx="429.05" cy="200.91" r="0.6" fill="#1fb8da" />
<circle cx="409.95" cy="207.52" r="0.6" fill="#1fb8da" />
<circle cx="413.59" cy="204.84" r="0.6" fill="#1fb8da" />
<circle cx="421.94" cy="216.19" r="0.6" fill="#1fb8da" />
<circle cx="416.85" cy="199.64" r="0.6" fill="#1fb8da" />
<circle cx="411.14" cy="204.99" r="0.6" fill="#1fb8da" />
<circle cx="413.12" cy="208.22" r="0.6" fill="#1fb8da" />
<circle cx="431.5" cy="212.87" r="0.6" fill="#1fb8da" />
<circle cx="415.49" cy="213.54" r="0.6" fill="#1fb8da" />
<circle cx="411.78" cy="199.46" r="0.6" fill="#1fb8da" />
<circle cx="425.3" cy="218.72" r="0.6" fill="#1fb8da" />
<circle cx="413.92" cy="218.21" r="0.6" fill="#1fb8da" />
<circle cx="423.28" cy="209.55" r="0.6" fill="#1fb8da" />
<circle cx="431.36" cy="208.2" r="0.6" fill="#1fb8da" />
<circle cx="409.29" cy="209.99" r="0.6" fill="#1fb8da" />
<circle cx="418.67" cy="221.8" r="0.6" fill="#1fb8da" />
<circle cx="408.54" cy="215.16" r="0.6" fill="#1fb8da" />
<circle cx="420.76" cy="196.02" r="0.6" fill="#1fb8da" />
<circle cx="427.03" cy="207.03" r="0.6" fill="#1fb8da" />
<circle cx="426.43" cy="210.88" r="0.6" fill="#1fb8da" />
<circle cx="421.71" cy="214.33" r="0.6" fill="#1fb8da" />
<circle cx="429.17" cy="212.59" r="0.6" fill="#1fb8da" />
<circle cx="426.04" cy="201.26" r="0.6" fill="#1fb8da" />
<circle cx="430.93" cy="204.59" r="0.6" fill="#1fb8da" />
<circle cx="429.1" cy="213.59" r="0.6" fill="#1fb8da" />
<circle cx="414.74" cy="213" r="0.6" fill="#1fb8da" />
<circle cx="427.02" cy="206.8" r="0.6" fill="#1fb8da" />
<circle cx="409.67" cy="204.28" r="0.6" fill="#1fb8da" />
<circle cx="429.96" cy="205.71" r="0.6" fill="#1fb8da" />
<circle cx="412.11" cy="215.58" r="0.6" fill="#1fb8da" />
<circle cx="426.13" cy="220.66" r="0.6" fill="#1fb8da" />
<circle cx="426.87" cy="208.57" r="0.6" fill="#1fb8da" />
<circle cx="427.03" cy="211.09" r="0.6" fill="#1fb8da" />
<circle cx="412.29" cy="219.83" r="0.6" fill="#1fb8da" />
<circle cx="429.2" cy="201.58" r="0.6" fill="#1fb8da" />
<circle cx="430.49" cy="212.75" r="0.6" fill="#1fb8da" />
<circle cx="416.81" cy="197.37" r="0.6" fill="#1fb8da" />
<circle cx="424.03" cy="208.53" r="0.6" fill="#1fb8da" />
<circle cx="426.45" cy="219.02" r="0.6" fill="#1fb8da" />
<circle cx="429.62" cy="204.46" r="0.6" fill="#1fb8da" />
<circle cx="416.36" cy="220.11" r="0.6" fill="#1fb8da" />
<circle cx="419.78" cy="202.64" r="0.6" fill="#1fb8da" />
<circle cx="416.02" cy="216.78" r="0.6" fill="#1fb8da" />
<circle cx="426.38" cy="216.62" r="0.6" fill="#1fb8da" />
<circle cx="423.21" cy="216.39" r="0.6" fill="#1fb8da" />
<circle cx="426.29" cy="218.57" r="0.6" fill="#1fb8da" />
<circle cx="430.59" cy="209.99" r="0.6" fill="#1fb8da" />
<circle cx="420.82" cy="213.12" r="0.6" fill="#1fb8da" />
<circle cx="426.12" cy="205.38" r="0.6" fill="#1fb8da" />
<circle cx="430.38" cy="203.63" r="0.6" fill="#1fb8da" />
<circle cx="424.3" cy="204.47" r="0.6" fill="#1fb8da" />
<circle cx="414.28" cy="211.01" r="0.6" fill="#1fb8da" />
<circle cx="430.11" cy="203.3" r="0.6" fill="#1fb8da" />
<circle cx="412.95" cy="201.34" r="0.6" fill="#1fb8da" />
<circle cx="413.26" cy="220.05" r="0.6" fill="#1fb8da" />
<circle cx="408.98" cy="210.67" r="0.6" fill="#1fb8da" />
<circle cx="424.1" cy="215.46" r="0.6" fill="#1fb8da" />
<circle cx="429.91" cy="213.34" r="0.6" fill="#1fb8da" />
<circle cx="413.5" cy="206.66" r="0.6" fill="#1fb8da" />
<circle cx="424.91" cy="202.6" r="0.6" fill="#1fb8da" />
<circle cx="413.96" cy="212.84" r="0.6" fill="#1fb8da" />
<circle cx="417.95" cy="222.05" r="0.6" fill="#1fb8da" />
<circle cx="416.11" cy="215.46" r="0.6" fill="#1fb8da" />
<circle cx="411.14" cy="209.53" r="0.6" fill="#1fb8da" />
<circle cx="424.3" cy="205.26" r="0.6" fill="#1fb8da" />
<circle cx="424.04" cy="208.31" r="0.6" fill="#1fb8da" />
<circle cx="428.08" cy="201.55" r="0.6" fill="#1fb8da" />
<circle cx="421.83" cy="219.49" r="0.6" fill="#1fb8da" />
<circle cx="417.74" cy="217.49" r="0.6" fill="#1fb8da" />
<circle cx="422.13" cy="218.38" r="0.6" fill="#1fb8da" />
<circle cx="431.97" cy="208.21" r="0.6" fill="#1fb8da" />
<circle cx="424.43" cy="206.19" r="0.6" fill="#1fb8da" />
<circle cx="416.55" cy="222.06" r="0.6" fill="#1fb8da" />
<circle cx="429.96" cy="213.42" r="0.6" fill="#1fb8da" />
<circle cx="416.15" cy="222.38" r="0.6" fill="#1fb8da" />
<circle cx="431.04" cy="210.31" r="0.6" fill="#1fb8da" />
<circle cx="416.1" cy="214.92" r="0.6" fill="#1fb8da" />
<circle cx="431.22" cy="209.16" r="0.6" fill="#1fb8da" />
<circle cx="412.66" cy="207.71" r="0.6" fill="#1fb8da" />
<circle cx="408.38" cy="214.36" r="0.6" fill="#1fb8da" />
<circle cx="421.54" cy="220.28" r="0.6" fill="#1fb8da" />
<circle cx="423.94" cy="214.86" r="0.6" fill="#1fb8da" />
<circle cx="420.92" cy="196.67" r="0.6" fill="#1fb8da" />
<circle cx="421.19" cy="214.44" r="0.6" fill="#1fb8da" />
<circle cx="428.46" cy="215.14" r="0.6" fill="#1fb8da" />
<circle cx="411.56" cy="209.25" r="0.6" fill="#1fb8da" />
<circle cx="413.12" cy="217.27" r="0.6" fill="#1fb8da" />
<circle cx="423.16" cy="217.75" r="0.6" fill="#1fb8da" />
<circle cx="420.66" cy="216.29" r="0.6" fill="#1fb8da" />
<circle cx="410.31" cy="217.56" r="0.6" fill="#1fb8da" />
<circle cx="417.16" cy="217.53" r="0.6" fill="#1fb8da" />
<circle cx="410.11" cy="217.75" r="0.6" fill="#1fb8da" />
<circle cx="415.7" cy="217.82" r="0.6" fill="#1fb8da" />
<circle cx="426.29" cy="216.98" r="0.6" fill="#1fb8da" />
<circle cx="409.31" cy="217.98" r="0.6" fill="#1fb8da" />
<circle cx="418.53" cy="217.89" r="0.6" fill="#1fb8da" />
<circle cx="414.33" cy="216.25" r="0.6" fill="#1fb8da" />
<circle cx="425.63" cy="216.68" r="0.6" fill="#1fb8da" />
<circle cx="412.27" cy="216.69" r="0.6" fill="#1fb8da" />
<circle cx="420.9" cy="215.81" r="0.6" fill="#1fb8da" />
<circle cx="419.4" cy="216.87" r="0.6" fill="#1fb8da" />
<circle cx="419.31" cy="216.09" r="0.6" fill="#1fb8da" />
<circle cx="424" cy="224.21" r="0.6" fill="#1fb8da" />
<circle cx="428.32" cy="226.96" r="0.6" fill="#1fb8da" />
<circle cx="424.38" cy="225.9" r="0.6" fill="#1fb8da" />
<circle cx="425.52" cy="228.02" r="0.6" fill="#1fb8da" />
<circle cx="430.61" cy="225.3" r="0.6" fill="#1fb8da" />
<circle cx="420.13" cy="229.64" r="0.6" fill="#1fb8da" />
<circle cx="420.1" cy="228.66" r="0.6" fill="#1fb8da" />
<circle cx="432.81" cy="230.26" r="0.6" fill="#1fb8da" />
<circle cx="426.03" cy="232.03" r="0.6" fill="#1fb8da" />
<circle cx="428.5" cy="231.31" r="0.6" fill="#1fb8da" />
<circle cx="426.03" cy="228.55" r="0.6" fill="#1fb8da" />
<circle cx="430.65" cy="232.36" r="0.6" fill="#1fb8da" />
<circle cx="425.84" cy="230.25" r="0.6" fill="#1fb8da" />
<circle cx="420.88" cy="226.84" r="0.6" fill="#1fb8da" />
<circle cx="419.28" cy="228.78" r="0.6" fill="#1fb8da" />
<circle cx="431.08" cy="232.87" r="0.6" fill="#1fb8da" />
<circle cx="425.17" cy="228.25" r="0.6" fill="#1fb8da" />
<circle cx="429.27" cy="232.44" r="0.6" fill="#1fb8da" />
<circle cx="421.53" cy="229.48" r="0.6" fill="#1fb8da" />
<circle cx="428.94" cy="232.15" r="0.6" fill="#1fb8da" />
<circle cx="429.26" cy="233" r="0.6" fill="#1fb8da" />
<circle cx="427.35" cy="227.74" r="0.6" fill="#1fb8da" />
<circle cx="419.69" cy="227.21" r="0.6" fill="#1fb8da" />
<circle cx="428.99" cy="234.18" r="0.6" fill="#1fb8da" />
<circle cx="429.82" cy="228.07" r="0.6" fill="#1fb8da" />
<circle cx="419.47" cy="232.13" r="0.6" fill="#1fb8da" />
<circle cx="420.84" cy="228.9" r="0.6" fill="#1fb8da" />
<circle cx="431.67" cy="227.59" r="0.6" fill="#1fb8da" />
<circle cx="423.56" cy="232" r="0.6" fill="#1fb8da" />
<circle cx="422.98" cy="232.91" r="0.6" fill="#1fb8da" />
<circle cx="432.18" cy="228.87" r="0.6" fill="#1fb8da" />
<circle cx="431.28" cy="226.68" r="0.6" fill="#1fb8da" />
<circle cx="426.5" cy="228.36" r="0.6" fill="#1fb8da" />
<circle cx="418.2" cy="228.86" r="0.6" fill="#1fb8da" />
<circle cx="428.93" cy="228.3" r="0.6" fill="#1fb8da" />
<circle cx="420.23" cy="231.74" r="0.6" fill="#1fb8da" />
<circle cx="421.9" cy="232.79" r="0.6" fill="#1fb8da" />
<circle cx="429.98" cy="231.16" r="0.6" fill="#1fb8da" />
<circle cx="424.42" cy="229.47" r="0.6" fill="#1fb8da" />
<circle cx="430.23" cy="234.04" r="0.6" fill="#1fb8da" />
<circle cx="426.71" cy="223.77" r="0.6" fill="#1fb8da" />
<circle cx="420.98" cy="225.49" r="0.6" fill="#1fb8da" />
<circle cx="430.77" cy="225.75" r="0.6" fill="#1fb8da" />
<circle cx="431.37" cy="230.53" r="0.6" fill="#1fb8da" />
<circle cx="424.89" cy="234.42" r="0.6" fill="#1fb8da" />
<circle cx="424.69" cy="233.87" r="0.6" fill="#1fb8da" />
<circle cx="430.76" cy="227.34" r="0.6" fill="#1fb8da" />
<circle cx="425.48" cy="233.83" r="0.6" fill="#1fb8da" />
<circle cx="418.81" cy="231.87" r="0.6" fill="#1fb8da" />
<circle cx="424.53" cy="232.72" r="0.6" fill="#1fb8da" />
<circle cx="423.94" cy="227.84" r="0.6" fill="#1fb8da" />
<circle cx="419.42" cy="226.22" r="0.6" fill="#1fb8da" />
<circle cx="421.63" cy="229.23" r="0.6" fill="#1fb8da" />
<circle cx="420.14" cy="230.42" r="0.6" fill="#1fb8da" />
<circle cx="427.07" cy="231.2" r="0.6" fill="#1fb8da" />
<circle cx="413.31" cy="234.67" r="0.6" fill="#1fb8da" />
<circle cx="416.07" cy="234.66" r="0.6" fill="#1fb8da" />
<circle cx="414.43" cy="234.34" r="0.6" fill="#1fb8da" />
<circle cx="417.46" cy="235.54" r="0.6" fill="#1fb8da" />
<circle cx="418.1" cy="235.11" r="0.6" fill="#1fb8da" />
<circle cx="418.5" cy="234.52" r="0.6" fill="#1fb8da" />
<circle cx="419.1" cy="234.94" r="0.6" fill="#1fb8da" />
<circle cx="417.48" cy="235.18" r="0.6" fill="#1fb8da" />
<circle cx="416.69" cy="234.7" r="0.6" fill="#1fb8da" />
<circle cx="414.42" cy="234.55" r="0.6" fill="#1fb8da" />
<circle cx="397" cy="216" r="0.55" fill="#8fd6ea" />
<circle cx="394" cy="219" r="0.55" fill="#8fd6ea" />
<circle cx="403" cy="222" r="0.55" fill="#8fd6ea" />
<circle cx="437" cy="211" r="0.55" fill="#8fd6ea" />
<circle cx="435" cy="222" r="0.55" fill="#8fd6ea" />
<circle cx="410" cy="192" r="0.55" fill="#8fd6ea" />
<circle cx="428" cy="193" r="0.55" fill="#8fd6ea" />
<path d="M400.5 230.5 L402 229.2 L404.5 229.5 L405 231.5 L403.5 233 L401.2 232.8Z" fill="#1fb8da" />
<path d="M398.7 234.8 L405 234.4 L411 234.6 L410.6 235.9 L405 236.8 L404 240 L404.3 246.5 L402.8 246.9 L402 241 L401.2 237.2 L398.7 236.4Z" fill="#ec7452" />
<circle cx="397" cy="237" r="0.6" fill="#ec7452" />
<circle cx="399.5" cy="238" r="0.6" fill="#ec7452" />
<circle cx="396.5" cy="234" r="0.6" fill="#ec7452" />
<circle cx="406" cy="238.5" r="0.6" fill="#ec7452" />
<circle cx="408.5" cy="237.3" r="0.6" fill="#ec7452" />
<circle cx="398.05" cy="237.53" r="0.6" fill="#7050a8" />
<circle cx="395.45" cy="237.87" r="0.6" fill="#b05090" />
<circle cx="396.05" cy="239.29" r="0.6" fill="#7050a8" />
<circle cx="395.85" cy="241.68" r="0.6" fill="#7050a8" />
<circle cx="397.6" cy="239.07" r="0.6" fill="#7050a8" />
<circle cx="397.63" cy="240.95" r="0.6" fill="#7050a8" />
<circle cx="395.11" cy="241.73" r="0.6" fill="#7050a8" />
<circle cx="393.48" cy="241.68" r="0.6" fill="#b05090" />
<circle cx="395.85" cy="242.22" r="0.6" fill="#7050a8" />
<circle cx="393.75" cy="245.16" r="0.6" fill="#7050a8" />
<circle cx="395.54" cy="246.61" r="0.6" fill="#7050a8" />
<circle cx="394.65" cy="247.19" r="0.6" fill="#b05090" />
<circle cx="393.09" cy="248.26" r="0.6" fill="#7050a8" />
<circle cx="394.62" cy="246.55" r="0.6" fill="#b05090" />
<circle cx="390.22" cy="250.03" r="0.6" fill="#7050a8" />
<circle cx="391.99" cy="251.77" r="0.6" fill="#7050a8" />
<circle cx="391.24" cy="252.01" r="0.6" fill="#b05090" />
<circle cx="391.67" cy="251.37" r="0.6" fill="#7050a8" />
<circle cx="390.61" cy="253.72" r="0.6" fill="#7050a8" />
<circle cx="389.92" cy="254.05" r="0.6" fill="#7050a8" />
<circle cx="389.22" cy="255.98" r="0.6" fill="#b05090" />
<circle cx="389.6" cy="255.62" r="0.6" fill="#7050a8" />
<circle cx="388.34" cy="255.45" r="0.6" fill="#7050a8" />
<circle cx="389.16" cy="256.26" r="0.6" fill="#b05090" />
<circle cx="387.63" cy="260.32" r="0.6" fill="#b05090" />
<circle cx="390.02" cy="258.82" r="0.6" fill="#7050a8" />
<circle cx="386" cy="238" r="0.55" fill="#c080b0" />
<circle cx="388" cy="242" r="0.55" fill="#c080b0" />
<circle cx="384" cy="236" r="0.55" fill="#c080b0" />
<circle cx="391" cy="236.5" r="0.55" fill="#c080b0" />
<circle cx="396" cy="274" r="0.6" fill="#e8a0b8" />
<circle cx="398" cy="276.5" r="0.6" fill="#e8a0b8" />
<circle cx="402" cy="274.5" r="0.6" fill="#e8a0b8" />
<circle cx="402" cy="278" r="0.6" fill="#e8a0b8" />
<path d="M458.8 217.5 L463 215.4 L468.3 216.4 L470.4 220.7 L469.4 228 L468.3 234.4 L467.7 240.7 L468.3 249.2 L469.4 255.5 L470 259 L467.3 259.8 L463 258.7 L456.7 256.6 L451.4 253.4 L449.3 249.2 L450.3 245 L453.5 239.7 L456.7 235.5 L458.8 230.2 L457.7 223.8 L457.1 219.6ZM460.5 224 L463 222.5 L466 223.5 L466.5 227 L465.5 230.5 L462.5 231.5 L460.5 229.5Z" fill="#1fb8da" fill-rule="evenodd"/>
<circle cx="476.6" cy="231.9" r="1.2" fill="#5a3a9a" />
<text x="481.9" y="234.4" font-size="6.9" fill="#2b2b2b" stroke="#2b2b2b" stroke-width="0.18" text-anchor="start" >CLP</text>
<circle cx="476.6" cy="240.3" r="1.2" fill="#e86a50" />
<text x="481.9" y="242.8" font-size="6.9" fill="#2b2b2b" stroke="#2b2b2b" stroke-width="0.18" text-anchor="start" >Pre-pro-B</text>
<circle cx="476.6" cy="248.7" r="1.2" fill="#2aa8b0" />
<text x="481.9" y="251.2" font-size="6.9" fill="#2b2b2b" stroke="#2b2b2b" stroke-width="0.18" text-anchor="start" >Pro-B</text>
<circle cx="476.6" cy="257.1" r="1.2" fill="#c0306a" />
<text x="481.9" y="259.6" font-size="6.9" fill="#2b2b2b" stroke="#2b2b2b" stroke-width="0.18" text-anchor="start" >GMP</text>
<text x="64.27" y="338.8" font-size="7.6" fill="#8a70b8" stroke="#8a70b8" stroke-width="0.18" text-anchor="middle" >3</text>
<text x="74.22" y="338.8" font-size="7.6" fill="#8a70b8" stroke="#8a70b8" stroke-width="0.18" text-anchor="middle" >10</text>
<text x="84.17" y="338.8" font-size="7.6" fill="#8a70b8" stroke="#8a70b8" stroke-width="0.18" text-anchor="middle" >12</text>
<text x="94.12" y="338.8" font-size="7.6" fill="#f09070" stroke="#f09070" stroke-width="0.18" text-anchor="middle" >5</text>
<text x="104.07" y="338.8" font-size="7.6" fill="#4ab8d8" stroke="#4ab8d8" stroke-width="0.18" text-anchor="middle" >0</text>
<text x="114.02" y="338.8" font-size="7.6" fill="#4ab8d8" stroke="#4ab8d8" stroke-width="0.18" text-anchor="middle" >4</text>
<text x="123.97" y="338.8" font-size="7.6" fill="#4ab8d8" stroke="#4ab8d8" stroke-width="0.18" text-anchor="middle" >1</text>
<text x="133.93" y="338.8" font-size="7.6" fill="#4ab8d8" stroke="#4ab8d8" stroke-width="0.18" text-anchor="middle" >2</text>
<text x="143.88" y="338.8" font-size="7.6" fill="#4ab8d8" stroke="#4ab8d8" stroke-width="0.18" text-anchor="middle" >6</text>
<text x="153.82" y="338.8" font-size="7.6" fill="#4ab8d8" stroke="#4ab8d8" stroke-width="0.18" text-anchor="middle" >11</text>
<text x="163.77" y="338.8" font-size="7.6" fill="#4ab8d8" stroke="#4ab8d8" stroke-width="0.18" text-anchor="middle" >9</text>
<text x="173.72" y="338.8" font-size="7.6" fill="#9088b8" stroke="#9088b8" stroke-width="0.18" text-anchor="middle" >7</text>
<text x="183.67" y="338.8" font-size="7.6" fill="#a8a0c0" stroke="#a8a0c0" stroke-width="0.18" text-anchor="middle" >8</text>
<rect x="59.3" y="342.2" width="129.35" height="14.2" fill="none" stroke="#d4d4d4" stroke-width="0.8"/>
<line x1="69.25" y1="342.2" x2="69.25" y2="356.4" stroke="#d4d4d4" stroke-width="0.8"/>
<line x1="79.2" y1="342.2" x2="79.2" y2="356.4" stroke="#d4d4d4" stroke-width="0.8"/>
<line x1="89.15" y1="342.2" x2="89.15" y2="356.4" stroke="#d4d4d4" stroke-width="0.8"/>
<line x1="99.1" y1="342.2" x2="99.1" y2="356.4" stroke="#d4d4d4" stroke-width="0.8"/>
<line x1="109.05" y1="342.2" x2="109.05" y2="356.4" stroke="#d4d4d4" stroke-width="0.8"/>
<line x1="119" y1="342.2" x2="119" y2="356.4" stroke="#d4d4d4" stroke-width="0.8"/>
<line x1="128.95" y1="342.2" x2="128.95" y2="356.4" stroke="#d4d4d4" stroke-width="0.8"/>
<line x1="138.9" y1="342.2" x2="138.9" y2="356.4" stroke="#d4d4d4" stroke-width="0.8"/>
<line x1="148.85" y1="342.2" x2="148.85" y2="356.4" stroke="#d4d4d4" stroke-width="0.8"/>
<line x1="158.8" y1="342.2" x2="158.8" y2="356.4" stroke="#d4d4d4" stroke-width="0.8"/>
<line x1="168.75" y1="342.2" x2="168.75" y2="356.4" stroke="#d4d4d4" stroke-width="0.8"/>
<line x1="178.7" y1="342.2" x2="178.7" y2="356.4" stroke="#d4d4d4" stroke-width="0.8"/>
<rect x="59.3" y="359.6" width="129.35" height="14.7" fill="none" stroke="#d4d4d4" stroke-width="0.8"/>
<line x1="69.25" y1="359.6" x2="69.25" y2="374.3" stroke="#d4d4d4" stroke-width="0.8"/>
<line x1="79.2" y1="359.6" x2="79.2" y2="374.3" stroke="#d4d4d4" stroke-width="0.8"/>
<line x1="89.15" y1="359.6" x2="89.15" y2="374.3" stroke="#d4d4d4" stroke-width="0.8"/>
<line x1="99.1" y1="359.6" x2="99.1" y2="374.3" stroke="#d4d4d4" stroke-width="0.8"/>
<line x1="109.05" y1="359.6" x2="109.05" y2="374.3" stroke="#d4d4d4" stroke-width="0.8"/>
<line x1="119" y1="359.6" x2="119" y2="374.3" stroke="#d4d4d4" stroke-width="0.8"/>
<line x1="128.95" y1="359.6" x2="128.95" y2="374.3" stroke="#d4d4d4" stroke-width="0.8"/>
<line x1="138.9" y1="359.6" x2="138.9" y2="374.3" stroke="#d4d4d4" stroke-width="0.8"/>
<line x1="148.85" y1="359.6" x2="148.85" y2="374.3" stroke="#d4d4d4" stroke-width="0.8"/>
<line x1="158.8" y1="359.6" x2="158.8" y2="374.3" stroke="#d4d4d4" stroke-width="0.8"/>
<line x1="168.75" y1="359.6" x2="168.75" y2="374.3" stroke="#d4d4d4" stroke-width="0.8"/>
<line x1="178.7" y1="359.6" x2="178.7" y2="374.3" stroke="#d4d4d4" stroke-width="0.8"/>
<rect x="59.3" y="376.6" width="129.35" height="15" fill="none" stroke="#d4d4d4" stroke-width="0.8"/>
<line x1="69.25" y1="376.6" x2="69.25" y2="391.6" stroke="#d4d4d4" stroke-width="0.8"/>
<line x1="79.2" y1="376.6" x2="79.2" y2="391.6" stroke="#d4d4d4" stroke-width="0.8"/>
<line x1="89.15" y1="376.6" x2="89.15" y2="391.6" stroke="#d4d4d4" stroke-width="0.8"/>
<line x1="99.1" y1="376.6" x2="99.1" y2="391.6" stroke="#d4d4d4" stroke-width="0.8"/>
<line x1="109.05" y1="376.6" x2="109.05" y2="391.6" stroke="#d4d4d4" stroke-width="0.8"/>
<line x1="119" y1="376.6" x2="119" y2="391.6" stroke="#d4d4d4" stroke-width="0.8"/>
<line x1="128.95" y1="376.6" x2="128.95" y2="391.6" stroke="#d4d4d4" stroke-width="0.8"/>
<line x1="138.9" y1="376.6" x2="138.9" y2="391.6" stroke="#d4d4d4" stroke-width="0.8"/>
<line x1="148.85" y1="376.6" x2="148.85" y2="391.6" stroke="#d4d4d4" stroke-width="0.8"/>
<line x1="158.8" y1="376.6" x2="158.8" y2="391.6" stroke="#d4d4d4" stroke-width="0.8"/>
<line x1="168.75" y1="376.6" x2="168.75" y2="391.6" stroke="#d4d4d4" stroke-width="0.8"/>
<line x1="178.7" y1="376.6" x2="178.7" y2="391.6" stroke="#d4d4d4" stroke-width="0.8"/>
<rect x="59.3" y="395.1" width="129.35" height="14.8" fill="none" stroke="#d4d4d4" stroke-width="0.8"/>
<line x1="69.25" y1="395.1" x2="69.25" y2="409.9" stroke="#d4d4d4" stroke-width="0.8"/>
<line x1="79.2" y1="395.1" x2="79.2" y2="409.9" stroke="#d4d4d4" stroke-width="0.8"/>
<line x1="89.15" y1="395.1" x2="89.15" y2="409.9" stroke="#d4d4d4" stroke-width="0.8"/>
<line x1="99.1" y1="395.1" x2="99.1" y2="409.9" stroke="#d4d4d4" stroke-width="0.8"/>
<line x1="109.05" y1="395.1" x2="109.05" y2="409.9" stroke="#d4d4d4" stroke-width="0.8"/>
<line x1="119" y1="395.1" x2="119" y2="409.9" stroke="#d4d4d4" stroke-width="0.8"/>
<line x1="128.95" y1="395.1" x2="128.95" y2="409.9" stroke="#d4d4d4" stroke-width="0.8"/>
<line x1="138.9" y1="395.1" x2="138.9" y2="409.9" stroke="#d4d4d4" stroke-width="0.8"/>
<line x1="148.85" y1="395.1" x2="148.85" y2="409.9" stroke="#d4d4d4" stroke-width="0.8"/>
<line x1="158.8" y1="395.1" x2="158.8" y2="409.9" stroke="#d4d4d4" stroke-width="0.8"/>
<line x1="168.75" y1="395.1" x2="168.75" y2="409.9" stroke="#d4d4d4" stroke-width="0.8"/>
<line x1="178.7" y1="395.1" x2="178.7" y2="409.9" stroke="#d4d4d4" stroke-width="0.8"/>
<text x="56" y="351.9" font-size="7.4" fill="#2b2b2b" stroke="#2b2b2b" stroke-width="0.18" text-anchor="end" letter-spacing="0.05" >WT control</text>
<text x="56.3" y="369.55" font-size="7.4" fill="#2b2b2b" stroke="#2b2b2b" stroke-width="0.18" text-anchor="end">WT <tspan font-style="italic" letter-spacing="-0.4">CEBPD</tspan></text>
<text x="56" y="386.7" font-size="7.4" fill="#2b2b2b" stroke="#2b2b2b" stroke-width="0.18" text-anchor="end" letter-spacing="0.05" >Dp16 control</text>
<text x="56.3" y="405.1" font-size="7.4" fill="#2b2b2b" stroke="#2b2b2b" stroke-width="0.18" text-anchor="end">Dp16 <tspan font-style="italic" letter-spacing="-0.4">CEBPD</tspan></text>
<path d="M61.6 329.2 V326.4 H84.4 V329.2" fill="none" stroke="#555" stroke-width="1"/>
<path d="M104.7 329.2 V326.4 H164.5 V329.2" fill="none" stroke="#555" stroke-width="1"/>
<path d="M173.1 329.2 V326.4 H185.3 V329.2" fill="none" stroke="#555" stroke-width="1"/>
<text x="74.9" y="322.8" font-size="7.4" fill="#8a70b8" stroke="#8a70b8" stroke-width="0.18" text-anchor="middle" >CLP</text>
<text x="93.8" y="321.5" font-size="7.4" fill="#f09070" stroke="#f09070" stroke-width="0.18" text-anchor="middle" >Pre-</text>
<text x="94.8" y="330.1" font-size="7.4" fill="#f09070" stroke="#f09070" stroke-width="0.18" text-anchor="middle" >pro-B</text>
<text x="136.8" y="323.6" font-size="7.4" fill="#4ab8d8" stroke="#4ab8d8" stroke-width="0.18" text-anchor="middle" >Pro-B</text>
<text x="179.2" y="323.6" font-size="7.4" fill="#e05080" stroke="#e05080" stroke-width="0.18" text-anchor="middle" >GMP</text>
<circle cx="64.27" cy="349.3" r="4.3" fill="#e02a1e" stroke="#c03030" stroke-opacity="0.5" stroke-width="0.5"/>
<circle cx="74.22" cy="349.3" r="0.6" fill="#f0c0c0" />
<circle cx="94.12" cy="349.3" r="1.3" fill="#eaa0a0" />
<circle cx="163.77" cy="349.3" r="1.4" fill="#e8a0a0" />
<circle cx="173.72" cy="349.3" r="1.3" fill="#eeb0b0" />
<circle cx="183.67" cy="349.3" r="1.1" fill="#eebcbc" />
<circle cx="64.27" cy="366.95" r="1.5" fill="#e09090" />
<circle cx="74.22" cy="366.95" r="0.6" fill="#f0c8c8" />
<circle cx="104.07" cy="366.95" r="2.2" fill="#d88080" stroke="#c03030" stroke-opacity="0.5" stroke-width="0.5"/>
<circle cx="114.02" cy="366.95" r="1.4" fill="#e8a8b0" />
<circle cx="173.72" cy="366.95" r="2.7" fill="#d84040" stroke="#c03030" stroke-opacity="0.5" stroke-width="0.5"/>
<circle cx="183.67" cy="366.95" r="2.9" fill="#dc3a30" stroke="#c03030" stroke-opacity="0.5" stroke-width="0.5"/>
<circle cx="94.12" cy="384.1" r="0.6" fill="#f0c8c8" />
<circle cx="123.97" cy="384.1" r="3.4" fill="#dc3028" stroke="#c03030" stroke-opacity="0.5" stroke-width="0.5"/>
<circle cx="133.93" cy="384.1" r="3.4" fill="#dc3028" stroke="#c03030" stroke-opacity="0.5" stroke-width="0.5"/>
<circle cx="143.88" cy="384.1" r="1.4" fill="#eaa8b0" />
<circle cx="104.07" cy="402.5" r="4.6" fill="#e02812" stroke="#c03030" stroke-opacity="0.5" stroke-width="0.5"/>
<circle cx="114.02" cy="402.5" r="2.4" fill="#d87070" stroke="#c03030" stroke-opacity="0.5" stroke-width="0.5"/>
<circle cx="123.97" cy="402.5" r="0.5" fill="#f0d0d0" />
<path d="M202.1 349.2 L197.66 345.47 A5.8 5.8 0 0 1 204.93 344.14Z" fill="#e0357e"/>
<path d="M202.1 349.2 L204.93 344.14 A5.8 5.8 0 1 1 196.69 351.3Z" fill="#7840a4"/>
<path d="M202.1 349.2 L196.69 351.3 A5.8 5.8 0 0 1 196.4 350.25Z" fill="#ea7c60"/>
<path d="M202.1 349.2 L196.4 350.25 A5.8 5.8 0 0 1 197.66 345.47Z" fill="#1eb2cc"/>
<path d="M202.1 367.3 L204.08 361.85 A5.8 5.8 0 0 1 205.67 362.73Z" fill="#7840a4"/>
<path d="M202.1 367.3 L205.67 362.73 A5.8 5.8 0 0 1 204.05 372.76Z" fill="#1eb2cc"/>
<path d="M202.1 367.3 L204.05 372.76 A5.8 5.8 0 0 1 201.9 373.1Z" fill="#7840a4"/>
<path d="M202.1 367.3 L201.9 373.1 A5.8 5.8 0 1 1 204.08 361.85Z" fill="#e0357e"/>
<path d="M202.1 385.4 L202.1 379.6 A5.8 5.8 0 0 1 203.89 379.88Z" fill="#e0357e"/>
<path d="M202.1 385.4 L203.89 379.88 A5.8 5.8 0 1 1 201.37 379.65Z" fill="#1eb2cc"/>
<path d="M202.1 385.4 L201.37 379.65 A5.8 5.8 0 0 1 202.1 379.6Z" fill="#ea7c60"/>
<circle cx="202.1" cy="403" r="5.8" fill="#1eb2cc" />
<rect x="213.3" y="361.8" width="3.6" height="3.6" fill="#7a4aa8" />
<text x="220.3" y="366.2" font-size="7.4" fill="#2b2b2b" stroke="#2b2b2b" stroke-width="0.18" text-anchor="start" >CLP</text>
<rect x="213.3" y="371" width="3.6" height="3.6" fill="#22b0d8" />
<text x="220.3" y="375.4" font-size="7.4" fill="#2b2b2b" stroke="#2b2b2b" stroke-width="0.18" text-anchor="start" >Pro-B</text>
<rect x="213.3" y="380.2" width="3.6" height="3.6" fill="#ea7c60" />
<text x="220.3" y="384.6" font-size="7.4" fill="#2b2b2b" stroke="#2b2b2b" stroke-width="0.18" text-anchor="start" >Pre-pro-B</text>
<rect x="213.3" y="389.4" width="3.6" height="3.6" fill="#e0307a" />
<text x="220.3" y="393.8" font-size="7.4" fill="#2b2b2b" stroke="#2b2b2b" stroke-width="0.18" text-anchor="start" >GMP</text>
<text x="73.8" y="429.4" font-size="7.4" fill="#2b2b2b" stroke="#2b2b2b" stroke-width="0.18" text-anchor="start" letter-spacing="-0.12" >Percentage of cells</text>
<circle cx="139.8" cy="427.5" r="0.4" fill="#f0b0b0" />
<circle cx="149.3" cy="427.5" r="2.2" fill="#e87878" />
<circle cx="159.9" cy="427.5" r="3.4" fill="#e03428" />
<circle cx="168.9" cy="427.5" r="4.4" fill="#e02a12" />
<text x="139.3" y="439.6" font-size="7.4" fill="#2b2b2b" stroke="#2b2b2b" stroke-width="0.18" text-anchor="start" letter-spacing="0" >0 25 50 75</text>
<path d="M280.9 362.8 L283.9 360.5 L292.8 360.5 L298.7 359.8 L302.4 362.8 L306.1 367.2 L308.3 370.9 L309 374.6 L306.1 379 L303.1 382 L301.5 386 L300.8 392 L301 395 L303.1 395.3 L307.5 397.5 L314.2 399 L318.6 400.5 L317.9 404.2 L315 407.9 L309 408.6 L300.9 405.7 L296.4 401.2 L297.2 396.8 L298.6 392 L298.7 386 L298.7 382 L294.2 379 L288.3 374.6 L282.4 368.7Z" fill="#e5e5e5" />
<path d="M283.9 358.3 L286.8 353.9 L291.3 352.4 L296.4 353.1 L299.4 356.1 L298.7 359.8 L292.8 360.5 L286.8 361.3Z" fill="#12a8e2" />
<path d="M283.9 358.3 L286.8 353.9 L288.5 353.2 L287.5 357 L287 361.3 L286.8 361.3Z" fill="#68b52c" />
<path d="M295 353.1 L296.4 353.1 L299.4 356.1 L298.7 359.8 L295.5 360.2 L294.5 357Z" fill="#f7c800" />
<path d="M289 352.8 L291.3 352.4 L294 352.8 L292 354.5Z" fill="#68b52c" />
<path d="M305.5 364 L307 360.5 L310 358.5 L313 357.5 L316 356 L318.5 353.5 L320.5 354.5 L320 358 L317 361 L315.5 364.5 L313 368 L309 368.5 L306 367Z" fill="#12a8e2" />
<path d="M315.5 357.5 L318.3 354.5 L319.8 355.2 L317.5 359 L315.8 360.5Z" fill="#3aa27a" />
<path d="M309.5 367.8 L313.9 367.3 L313.6 373 L312.6 377.2 L310.4 377.2 L309.6 372Z" fill="#3c9f6a" />
<circle cx="311" cy="370" r="0.8" fill="#12a8e2" />
<circle cx="312.5" cy="374" r="0.8" fill="#12a8e2" />
<circle cx="310.6" cy="375.5" r="0.8" fill="#12a8e2" />
<circle cx="308" cy="365" r="0.8" fill="#12a8e2" />
<circle cx="312" cy="362" r="0.8" fill="#12a8e2" />
<circle cx="306.5" cy="372" r="0.8" fill="#12a8e2" />
<circle cx="305" cy="375" r="0.8" fill="#12a8e2" />
<circle cx="308.5" cy="378" r="0.8" fill="#12a8e2" />
<circle cx="312.5" cy="365" r="0.8" fill="#68b52c" />
<circle cx="309.5" cy="363" r="0.8" fill="#68b52c" />
<circle cx="316" cy="358" r="0.8" fill="#68b52c" />
<circle cx="314" cy="366" r="0.8" fill="#68b52c" />
<circle cx="293.87" cy="373.82" r="0.6" fill="#12a8e2" />
<circle cx="300.7" cy="373.56" r="0.6" fill="#12a8e2" />
<circle cx="298.39" cy="363.68" r="0.6" fill="#12a8e2" />
<circle cx="293.37" cy="375.52" r="0.6" fill="#12a8e2" />
<circle cx="299.59" cy="382.3" r="0.6" fill="#12a8e2" />
<circle cx="310.2" cy="397.61" r="0.6" fill="#12a8e2" />
<circle cx="297.11" cy="377.05" r="0.6" fill="#12a8e2" />
<circle cx="303.87" cy="391.97" r="0.6" fill="#12a8e2" />
<circle cx="294.92" cy="365.93" r="0.6" fill="#12a8e2" />
<circle cx="297.71" cy="367.17" r="0.6" fill="#12a8e2" />
<circle cx="300.98" cy="373.64" r="0.6" fill="#12a8e2" />
<circle cx="307.13" cy="371.82" r="0.6" fill="#12a8e2" />
<circle cx="299.32" cy="370.23" r="0.6" fill="#12a8e2" />
<circle cx="302.44" cy="380.63" r="0.6" fill="#12a8e2" />
<circle cx="294.59" cy="364.56" r="0.6" fill="#12a8e2" />
<circle cx="284.45" cy="363.72" r="0.6" fill="#12a8e2" />
<circle cx="292.68" cy="366.44" r="0.6" fill="#12a8e2" />
<circle cx="289.78" cy="363.7" r="0.6" fill="#12a8e2" />
<circle cx="292.52" cy="377.43" r="0.6" fill="#12a8e2" />
<circle cx="293.74" cy="361.94" r="0.6" fill="#12a8e2" />
<circle cx="301.55" cy="369.57" r="0.6" fill="#12a8e2" />
<circle cx="288.27" cy="371.92" r="0.6" fill="#12a8e2" />
<circle cx="307.3" cy="369.34" r="0.6" fill="#12a8e2" />
<circle cx="293.74" cy="375.61" r="0.6" fill="#12a8e2" />
<circle cx="283.08" cy="364.63" r="0.6" fill="#12a8e2" />
<circle cx="308.4" cy="373.57" r="0.6" fill="#12a8e2" />
<circle cx="289.06" cy="367.29" r="0.6" fill="#12a8e2" />
<circle cx="290.34" cy="369.1" r="0.6" fill="#12a8e2" />
<circle cx="292.27" cy="365.91" r="0.6" fill="#12a8e2" />
<circle cx="304.96" cy="374.57" r="0.6" fill="#12a8e2" />
<circle cx="300.47" cy="374.23" r="0.6" fill="#12a8e2" />
<circle cx="298.97" cy="370.4" r="0.6" fill="#12a8e2" />
<circle cx="306.6" cy="374.88" r="0.6" fill="#12a8e2" />
<circle cx="302.8" cy="382.05" r="0.6" fill="#12a8e2" />
<circle cx="291.25" cy="375.09" r="0.6" fill="#12a8e2" />
<circle cx="300.77" cy="369.3" r="0.6" fill="#68b52c" />
<circle cx="307.66" cy="371.17" r="0.6" fill="#68b52c" />
<circle cx="305.96" cy="368.42" r="0.6" fill="#68b52c" />
<circle cx="305.06" cy="371.7" r="0.6" fill="#68b52c" />
<circle cx="304.5" cy="370.86" r="0.6" fill="#68b52c" />
<circle cx="300.59" cy="371.05" r="0.6" fill="#68b52c" />
<circle cx="302.04" cy="368.64" r="0.6" fill="#68b52c" />
<circle cx="306.45" cy="370.67" r="0.6" fill="#68b52c" />
<circle cx="303.63" cy="378.82" r="0.6" fill="#68b52c" />
<circle cx="306.12" cy="375.63" r="0.6" fill="#68b52c" />
<path d="M317.3 329.1 L320 328.6 L325.8 328.5 L331.8 327.9 L336.7 328.5 L339.7 330.9 L341 335.8 L344 340.6 L347.6 343.7 L348.8 346.1 L346.4 350.3 L340.3 349.7 L334.3 350.3 L328.2 350.9 L323.3 351.6 L319.7 350.9 L317.9 344.3 L317.3 335.8Z" fill="#12a8e2" />
<path d="M329.5 328.2 L331.8 327.9 L336.7 328.5 L339.7 330.9 L341 335.8 L344 340.6 L347.6 343.7 L348.8 346.1 L346.4 350.3 L340.3 349.7 L337.9 349.3 L333 346 L329.4 344.3 L329 336Z" fill="#68b52c" />
<path d="M317.5 329 L322 328.3 L324 330 L322 332.5 L318 332Z" fill="#f7c800" />
<circle cx="337.57" cy="348.06" r="0.7" fill="#8ec8b0" />
<circle cx="341.57" cy="349.5" r="0.7" fill="#8ec8b0" />
<circle cx="336.23" cy="350.23" r="0.7" fill="#8ec8b0" />
<circle cx="337.58" cy="349.14" r="0.7" fill="#8ec8b0" />
<circle cx="344.86" cy="349.67" r="0.7" fill="#8ec8b0" />
<circle cx="333.52" cy="346.81" r="0.7" fill="#8ec8b0" />
<circle cx="335.58" cy="347.52" r="0.7" fill="#8ec8b0" />
<circle cx="337.04" cy="349.19" r="0.7" fill="#8ec8b0" />
<circle cx="335.34" cy="350.2" r="0.7" fill="#8ec8b0" />
<circle cx="340.41" cy="349.58" r="0.7" fill="#8ec8b0" />
<path d="M319.7 351.2 L323.3 351.2 L328.2 350.5 L334.3 349.9 L340.3 349.4 L346.4 349.9 L351.3 352.2 L353.1 354.6 L351.9 357.6 L348.8 361.3 L345.2 365.5 L341.6 368.5 L336.7 369.8 L329.4 369.2 L324.6 366.7 L322.1 362.5 L320.9 356.4Z" fill="#f7c800" />
<path d="M372.9 353.9 L374.7 351.5 L378.9 349.8 L383.1 348.6 L386.6 349.8 L387.8 353.9 L388.4 358.7 L387.2 364.1 L384.8 367.1 L382.5 369.2 L372.3 370.8 L371.7 365.9 L372.3 359.9ZM376.5 357 L379 355.8 L382.5 356.3 L384.3 358 L384.2 361.5 L382.8 364.5 L380.2 366 L377.3 365.3 L376.4 361Z" fill="#68b52c" fill-rule="evenodd"/>
<path d="M372.9 353.9 L374.7 351.5 L377.3 350.4 L377.2 356 L376.4 361 L377.3 366 L377.5 370.2 L372.3 370.8 L371.7 365.9 L372.3 359.9Z" fill="#12a8e2" />
<path d="M373.5 369.8 L381.9 368.3 L383.1 373 L382.5 377.8 L383.7 383.2 L384.3 387.3 L383.1 391 L381.9 392.7 L378.3 391 L369.9 389.1 L365.2 386.2 L363.4 382.6 L364.6 379 L368.1 376 L371.1 373Z" fill="#f7c800" />
<circle cx="380.5" cy="360.5" r="1" fill="#68b52c" />
<circle cx="382.5" cy="358.5" r="0.7" fill="#68b52c" />
<line x1="274.5" y1="417.1" x2="274.5" y2="367" stroke="#2b2b2b" stroke-width="1.2"/>
<line x1="273.9" y1="416.5" x2="323.5" y2="416.5" stroke="#2b2b2b" stroke-width="1.2"/>
<path d="M274.5 363 L272.2 368 L276.8 368Z" fill="#2b2b2b" />
<path d="M327.5 416.5 L322.5 414.2 L322.5 418.8Z" fill="#2b2b2b" />
<text x="275.4" y="358.3" font-size="8.1" fill="#2b2b2b" stroke="#2b2b2b" stroke-width="0.18" text-anchor="start" letter-spacing="-0.4" transform="rotate(-90 275.4 358.3)" >UMAP_2</text>
<text x="333" y="418.8" font-size="8.1" fill="#2b2b2b" stroke="#2b2b2b" stroke-width="0.18" text-anchor="start" letter-spacing="-0.4" >UMAP_1</text>
<path d="M404.82 337.28 A15.3 15.3 0 0 1 433.58 339.54" fill="none" stroke="#12a8e2" stroke-width="4.8"/>
<path d="M433.58 339.54 A15.3 15.3 0 1 1 403.5 343.5" fill="none" stroke="#68b52c" stroke-width="4.8"/>
<path d="M403.5 343.5 A15.3 15.3 0 0 1 404.82 337.28" fill="none" stroke="#f7c800" stroke-width="4.8"/>
<text x="418.8" y="341.3" font-size="7.6" fill="#2b2b2b" stroke="#2b2b2b" stroke-width="0.18" text-anchor="middle" >WT</text>
<text x="418.8" y="347.9" font-size="7.6" fill="#2b2b2b" stroke="#2b2b2b" stroke-width="0.18" text-anchor="middle" >control</text>
<path d="M451.9 343.5 A15.3 15.3 0 1 1 478.02 354.32" fill="none" stroke="#f7c800" stroke-width="4.8"/>
<path d="M478.02 354.32 A15.3 15.3 0 0 1 460.25 357.13" fill="none" stroke="#12a8e2" stroke-width="4.8"/>
<path d="M460.25 357.13 A15.3 15.3 0 0 1 451.9 343.5" fill="none" stroke="#68b52c" stroke-width="4.8"/>
<text x="467.2" y="341.3" font-size="7.6" fill="#2b2b2b" stroke="#2b2b2b" stroke-width="0.18" text-anchor="middle" >WT</text>
<text x="467.2" y="347.9" font-size="7.6" fill="#2b2b2b" stroke="#2b2b2b" stroke-width="0.18" text-anchor="middle" font-style="italic" letter-spacing="-0.25" >CEBPD</text>
<path d="M404.01 390.97 A15.3 15.3 0 0 1 427.18 378.39" fill="none" stroke="#f7c800" stroke-width="4.8"/>
<path d="M427.18 378.39 A15.3 15.3 0 0 1 420.9 406.72" fill="none" stroke="#12a8e2" stroke-width="4.8"/>
<path d="M420.9 406.72 A15.3 15.3 0 0 1 404.01 390.97" fill="none" stroke="#68b52c" stroke-width="4.8"/>
<text x="419.3" y="389.3" font-size="7.6" fill="#2b2b2b" stroke="#2b2b2b" stroke-width="0.18" text-anchor="middle" >Dp16</text>
<text x="419.3" y="395.9" font-size="7.6" fill="#2b2b2b" stroke="#2b2b2b" stroke-width="0.18" text-anchor="middle" >control</text>
<path d="M451.76 390.17 A15.3 15.3 0 1 1 469.13 406.65" fill="none" stroke="#f7c800" stroke-width="4.8"/>
<path d="M469.13 406.65 A15.3 15.3 0 0 1 453.25 398.21" fill="none" stroke="#12a8e2" stroke-width="4.8"/>
<path d="M453.25 398.21 A15.3 15.3 0 0 1 451.76 390.17" fill="none" stroke="#68b52c" stroke-width="4.8"/>
<text x="467" y="389.3" font-size="7.6" fill="#2b2b2b" stroke="#2b2b2b" stroke-width="0.18" text-anchor="middle" >Dp16</text>
<text x="467" y="395.9" font-size="7.6" fill="#2b2b2b" stroke="#2b2b2b" stroke-width="0.18" text-anchor="middle" font-style="italic" letter-spacing="-0.25" >CEBPD</text>
<rect x="489.3" y="360.5" width="4.4" height="4.2" fill="#5aa632" />
<text x="496.8" y="365.2" font-size="7.4" fill="#2b2b2b" stroke="#2b2b2b" stroke-width="0.18" text-anchor="start" >G2M</text>
<rect x="489.3" y="369.35" width="4.4" height="4.2" fill="#1a90e0" />
<text x="496.8" y="374.05" font-size="7.4" fill="#2b2b2b" stroke="#2b2b2b" stroke-width="0.18" text-anchor="start" >S</text>
<rect x="489.3" y="378.2" width="4.4" height="4.2" fill="#f6ba22" />
<text x="496.8" y="382.9" font-size="7.4" fill="#2b2b2b" stroke="#2b2b2b" stroke-width="0.18" text-anchor="start" >G1</text>
</svg>
</body></html>
